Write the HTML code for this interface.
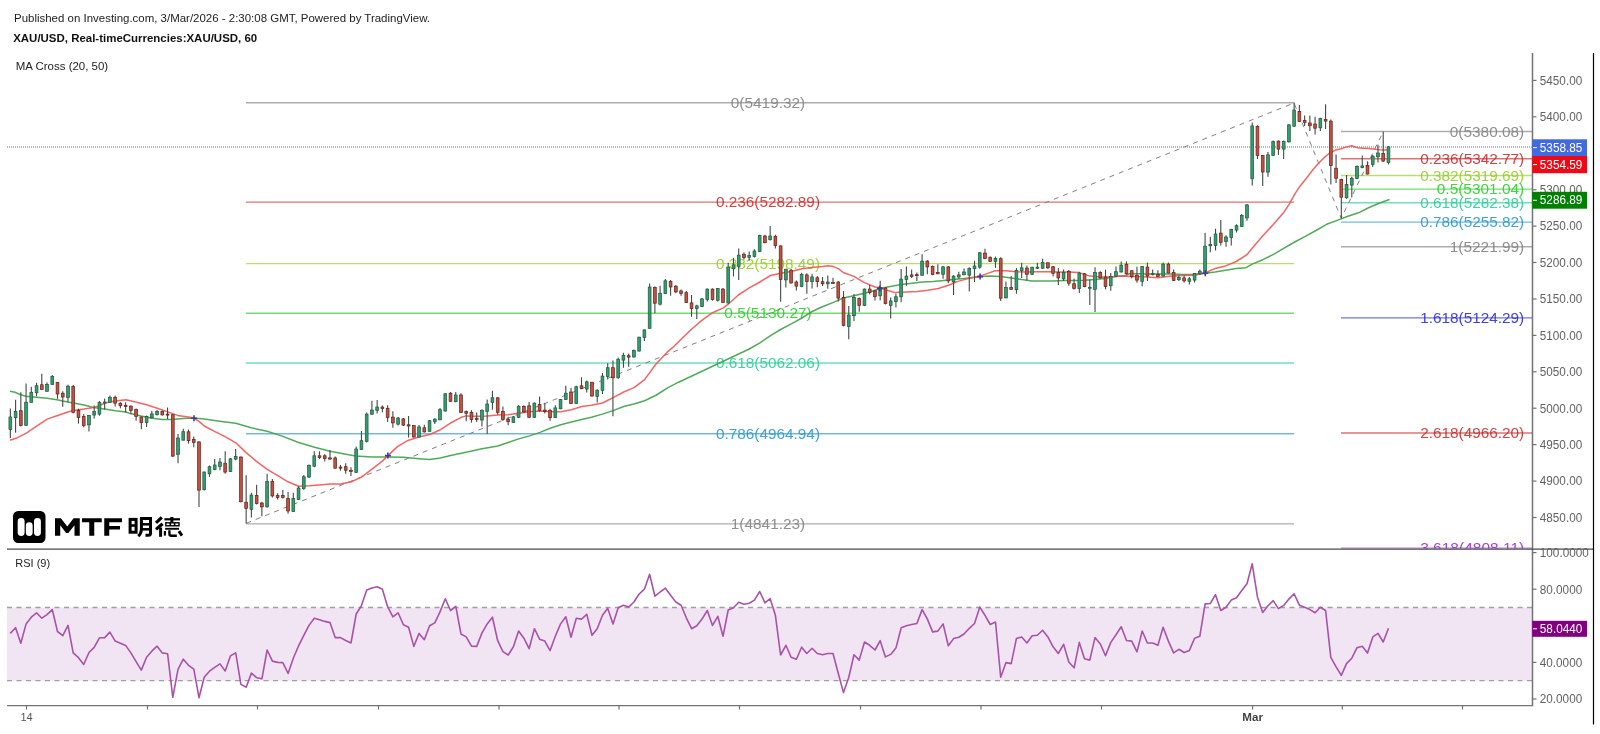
<!DOCTYPE html><html><head><meta charset="utf-8"><title>XAU/USD</title><style>html,body{margin:0;padding:0;background:#fff}svg{display:block;will-change:transform}text{font-family:"Liberation Sans",sans-serif}</style></head><body>
<svg width="1600" height="734" viewBox="0 0 1600 734">
<rect width="1600" height="734" fill="#fff"/>
<defs><clipPath id="main"><rect x="0" y="50" width="1532" height="498.5"/></clipPath><clipPath id="rsic"><rect x="7" y="550" width="1525" height="155"/></clipPath></defs>
<text x="14" y="21.8" font-size="11" fill="#222" textLength="416" lengthAdjust="spacingAndGlyphs">Published on Investing.com, 3/Mar/2026 - 2:30:08 GMT, Powered by TradingView.</text>
<text x="13.2" y="41.5" font-size="11" font-weight="bold" fill="#111" textLength="244" lengthAdjust="spacingAndGlyphs">XAU/USD, Real-timeCurrencies:XAU/USD, 60</text>
<text x="15.7" y="69.9" font-size="11" fill="#222" textLength="92.5" lengthAdjust="spacingAndGlyphs">MA Cross (20, 50)</text>
<text x="15.3" y="567.3" font-size="11" fill="#222">RSI (9)</text>
<g clip-path="url(#main)">
<line x1="246" x2="1294" y1="102.8" y2="102.8" stroke="#808080" stroke-width="1.4" opacity="0.65"/>
<text x="730.8" y="107.9" font-size="14.3" fill="#808080" opacity="0.88" textLength="74.4" lengthAdjust="spacingAndGlyphs">0(5419.32)</text>
<line x1="246" x2="1294" y1="202.1" y2="202.1" stroke="#cc2828" stroke-width="1.4" opacity="0.65"/>
<text x="716.0" y="207.2" font-size="14.3" fill="#cc2828" opacity="0.88" textLength="104.0" lengthAdjust="spacingAndGlyphs">0.236(5282.89)</text>
<line x1="246" x2="1294" y1="263.6" y2="263.6" stroke="#95cc28" stroke-width="1.4" opacity="0.65"/>
<text x="716.0" y="268.7" font-size="14.3" fill="#95cc28" opacity="0.88" textLength="104.0" lengthAdjust="spacingAndGlyphs">0.382(5198.49)</text>
<line x1="246" x2="1294" y1="313.3" y2="313.3" stroke="#28cc28" stroke-width="1.4" opacity="0.65"/>
<text x="724.3" y="318.4" font-size="14.3" fill="#28cc28" opacity="0.88" textLength="87.4" lengthAdjust="spacingAndGlyphs">0.5(5130.27)</text>
<line x1="246" x2="1294" y1="363.0" y2="363.0" stroke="#28cc95" stroke-width="1.4" opacity="0.65"/>
<text x="716.0" y="368.1" font-size="14.3" fill="#28cc95" opacity="0.88" textLength="104.0" lengthAdjust="spacingAndGlyphs">0.618(5062.06)</text>
<line x1="246" x2="1294" y1="433.8" y2="433.8" stroke="#2895cc" stroke-width="1.4" opacity="0.65"/>
<text x="716.0" y="438.9" font-size="14.3" fill="#2895cc" opacity="0.88" textLength="104.0" lengthAdjust="spacingAndGlyphs">0.786(4964.94)</text>
<line x1="246" x2="1294" y1="523.9" y2="523.9" stroke="#808080" stroke-width="1.4" opacity="0.65"/>
<text x="730.8" y="529.0" font-size="14.3" fill="#808080" opacity="0.88" textLength="74.4" lengthAdjust="spacingAndGlyphs">1(4841.23)</text>
<line x1="1341" x2="1532" y1="131.5" y2="131.5" stroke="#808080" stroke-width="1.4" opacity="0.65"/>
<text x="1449.8" y="136.6" font-size="14.3" fill="#808080" opacity="0.88" textLength="74.4" lengthAdjust="spacingAndGlyphs">0(5380.08)</text>
<line x1="1341" x2="1532" y1="158.7" y2="158.7" stroke="#cc2828" stroke-width="1.4" opacity="0.65"/>
<text x="1420.2" y="163.8" font-size="14.3" fill="#cc2828" opacity="0.88" textLength="104.0" lengthAdjust="spacingAndGlyphs">0.236(5342.77)</text>
<line x1="1341" x2="1532" y1="175.5" y2="175.5" stroke="#95cc28" stroke-width="1.4" opacity="0.65"/>
<text x="1420.2" y="180.6" font-size="14.3" fill="#95cc28" opacity="0.88" textLength="104.0" lengthAdjust="spacingAndGlyphs">0.382(5319.69)</text>
<line x1="1341" x2="1532" y1="189.1" y2="189.1" stroke="#28cc28" stroke-width="1.4" opacity="0.65"/>
<text x="1436.8" y="194.2" font-size="14.3" fill="#28cc28" opacity="0.88" textLength="87.4" lengthAdjust="spacingAndGlyphs">0.5(5301.04)</text>
<line x1="1341" x2="1532" y1="202.7" y2="202.7" stroke="#28cc95" stroke-width="1.4" opacity="0.65"/>
<text x="1420.2" y="207.8" font-size="14.3" fill="#28cc95" opacity="0.88" textLength="104.0" lengthAdjust="spacingAndGlyphs">0.618(5282.38)</text>
<line x1="1341" x2="1532" y1="222.1" y2="222.1" stroke="#2895cc" stroke-width="1.4" opacity="0.65"/>
<text x="1420.2" y="227.2" font-size="14.3" fill="#2895cc" opacity="0.88" textLength="104.0" lengthAdjust="spacingAndGlyphs">0.786(5255.82)</text>
<line x1="1341" x2="1532" y1="246.7" y2="246.7" stroke="#808080" stroke-width="1.4" opacity="0.65"/>
<text x="1449.8" y="251.8" font-size="14.3" fill="#808080" opacity="0.88" textLength="74.4" lengthAdjust="spacingAndGlyphs">1(5221.99)</text>
<line x1="1341" x2="1532" y1="317.9" y2="317.9" stroke="#2828cc" stroke-width="1.4" opacity="0.65"/>
<text x="1420.2" y="323.0" font-size="14.3" fill="#2828cc" opacity="0.88" textLength="104.0" lengthAdjust="spacingAndGlyphs">1.618(5124.29)</text>
<line x1="1341" x2="1532" y1="433.0" y2="433.0" stroke="#cc2828" stroke-width="1.4" opacity="0.65"/>
<text x="1420.2" y="438.1" font-size="14.3" fill="#cc2828" opacity="0.88" textLength="104.0" lengthAdjust="spacingAndGlyphs">2.618(4966.20)</text>
<line x1="1341" x2="1532" y1="548.2" y2="548.2" stroke="#9528cc" stroke-width="1.4" opacity="0.65"/>
<text x="1420.2" y="553.3" font-size="14.3" fill="#9528cc" opacity="0.88" textLength="104.0" lengthAdjust="spacingAndGlyphs">3.618(4808.11)</text>
<line x1="7" x2="1532" y1="147" y2="147" stroke="#4169e1" stroke-width="1" stroke-dasharray="1,1" opacity="0.95"/>
<path d="M246.4,523.2 L1294,103 L1341.2,218.2 L1383.3,131.5" fill="none" stroke="#808080" stroke-width="1" stroke-dasharray="5,5"/>
<path d="M10.0,391.3 L15.0,392.3 L20.7,394.8 L25.9,396.3 L36.3,397.3 L47.2,398.2 L57.0,399.8 L67.7,402.0 L73.3,403.0 L84.0,405.1 L93.7,407.4 L104.4,408.9 L115.3,410.7 L125.9,412.0 L130.3,413.6 L141.2,416.1 L151.9,418.3 L162.5,419.5 L172.4,419.4 L183.0,418.4 L193.7,418.0 L204.3,418.9 L219.7,421.2 L235.8,423.3 L251.2,427.8 L267.2,431.3 L282.2,436.1 L298.5,442.5 L314.6,447.2 L330.0,451.3 L346.0,454.3 L355.7,456.1 L371.7,457.0 L387.9,457.0 L403.2,457.3 L419.1,458.8 L429.7,459.6 L440.4,457.9 L450.5,455.4 L466.1,452.2 L482.0,448.7 L497.9,446.0 L508.0,442.5 L518.7,438.9 L529.5,435.9 L540.1,432.4 L550.2,428.3 L560.8,424.8 L571.4,422.1 L581.7,419.4 L591.4,417.3 L602.4,414.1 L613.1,410.6 L623.7,406.5 L634.0,404.0 L644.6,400.8 L655.6,395.5 L668.0,387.6 L678.6,382.2 L749.3,349.0 L759.9,342.8 L770.5,335.7 L780.6,329.5 L791.3,323.8 L801.9,318.0 L811.6,311.8 L822.4,306.8 L833.4,302.4 L843.2,298.1 L853.8,295.8 L864.4,293.2 L875.0,290.5 L880.0,288.5 L890.3,286.4 L901.3,284.6 L911.9,283.2 L922.5,282.0 L933.1,281.4 L943.8,280.5 L953.1,279.6 L963.8,278.4 L974.4,277.3 L979.7,276.6 L989.8,276.1 L1000.4,276.5 L1011.1,277.9 L1021.7,279.6 L1031.8,280.9 L1042.4,280.9 L1053.0,280.9 L1063.7,280.5 L1073.6,280.5 L1084.6,280.2 L1095.2,279.6 L1104.9,278.4 L1115.6,276.6 L1126.2,275.6 L1130.0,273.5 L1147.7,273.9 L1172.5,273.9 L1183.1,274.4 L1194.3,274.2 L1205.3,273.3 L1215.0,272.1 L1225.6,270.3 L1236.3,268.6 L1246.0,267.7 L1252.2,264.1 L1262.8,259.7 L1273.5,254.4 L1284.1,248.2 L1294.7,242.0 L1305.3,236.3 L1316.0,230.5 L1326.6,224.3 L1337.2,220.4 L1347.9,216.3 L1358.5,212.8 L1369.1,207.5 L1379.7,203.0 L1389.5,199.5" fill="none" stroke="#3fa048" stroke-width="1.5" stroke-linejoin="round" opacity="0.9"/>
<path d="M10.0,440.2 L15.9,438.3 L25.9,433.3 L36.3,426.4 L47.2,419.1 L57.0,415.8 L67.7,412.0 L73.3,410.4 L84.0,409.1 L93.7,407.6 L99.2,405.7 L104.4,403.2 L109.6,402.0 L115.3,401.1 L125.9,399.7 L135.6,402.0 L146.6,404.8 L157.3,408.2 L167.0,411.6 L177.7,415.4 L188.3,417.1 L193.7,418.0 L199.3,421.6 L204.3,426.0 L214.4,431.3 L225.0,436.6 L235.8,442.8 L246.1,452.6 L256.5,461.4 L267.2,469.4 L277.8,475.6 L287.9,481.8 L298.5,486.2 L309.3,485.7 L319.1,485.0 L330.0,484.1 L340.7,484.1 L351.3,481.8 L361.0,477.4 L371.7,469.4 L382.6,460.9 L387.9,455.6 L397.7,446.4 L408.5,440.2 L420.0,436.8 L429.7,434.5 L440.4,429.7 L450.5,423.0 L461.3,417.3 L466.1,415.9 L476.7,416.3 L487.3,415.9 L497.9,415.0 L508.0,414.7 L518.7,413.2 L529.5,411.8 L540.1,410.9 L550.2,411.8 L560.8,411.8 L571.4,409.7 L581.7,406.5 L591.4,405.3 L602.4,403.0 L613.1,397.7 L623.7,392.0 L634.0,387.6 L644.6,379.6 L655.6,364.5 L668.0,351.3 L673.1,347.2 L681.1,339.2 L691.2,329.5 L701.5,320.6 L712.5,312.7 L723.3,307.9 L727.7,304.7 L738.3,295.0 L749.3,287.9 L759.9,282.0 L770.5,275.5 L780.6,273.2 L791.3,271.4 L801.9,268.7 L811.6,267.5 L822.4,266.6 L828.1,265.7 L833.4,266.6 L838.7,268.9 L843.2,272.5 L853.8,276.4 L864.4,282.6 L875.0,287.0 L880.0,287.6 L887.1,290.3 L895.1,292.6 L906.6,292.0 L917.2,291.5 L927.8,290.3 L938.4,288.5 L949.1,285.0 L957.9,281.4 L969.1,278.4 L979.7,276.1 L989.8,272.6 L995.1,270.8 L1005.8,270.8 L1016.4,271.7 L1027.0,272.0 L1037.6,271.7 L1048.3,271.7 L1058.4,272.0 L1068.3,272.0 L1078.9,272.6 L1089.9,276.1 L1100.2,277.0 L1110.3,277.0 L1120.9,276.1 L1130.0,276.5 L1147.7,277.1 L1158.3,277.8 L1169.0,276.2 L1183.1,275.6 L1194.3,275.3 L1205.3,273.0 L1210.6,270.3 L1215.0,268.6 L1225.6,265.9 L1236.3,261.5 L1246.9,254.7 L1252.2,248.2 L1262.8,235.8 L1273.5,224.3 L1284.1,211.9 L1289.4,203.9 L1294.7,194.2 L1300.0,186.2 L1306.8,177.8 L1312.6,170.1 L1318.3,163.5 L1324.0,157.7 L1329.7,153.0 L1335.5,150.1 L1341.2,148.8 L1346.3,146.9 L1351.7,145.7 L1357.4,147.8 L1362.6,148.2 L1367.9,148.6 L1373.6,149.1 L1379.4,149.7 L1387.0,150.1" fill="none" stroke="#ee5555" stroke-width="1.5" stroke-linejoin="round" opacity="0.9"/>
<line x1="10.35" x2="10.35" y1="408.6" y2="438.1" stroke="#404a44" stroke-width="1.1"/>
<rect x="8.95" y="417.0" width="2.8" height="12.5" fill="#2f9f6f" stroke="#23563b" stroke-width="0.7"/>
<line x1="15.59" x2="15.59" y1="399.7" y2="432.7" stroke="#404a44" stroke-width="1.1"/>
<rect x="14.19" y="411.4" width="2.8" height="6.3" fill="#2f9f6f" stroke="#23563b" stroke-width="0.7"/>
<line x1="20.83" x2="20.83" y1="392.3" y2="426.4" stroke="#404a44" stroke-width="1.1"/>
<rect x="19.43" y="410.7" width="2.8" height="14.8" fill="#c4503f" stroke="#5f221a" stroke-width="0.7"/>
<line x1="26.07" x2="26.07" y1="383.5" y2="425.4" stroke="#404a44" stroke-width="1.1"/>
<rect x="24.67" y="402.2" width="2.8" height="23.2" fill="#2f9f6f" stroke="#23563b" stroke-width="0.7"/>
<line x1="31.31" x2="31.31" y1="386.7" y2="402.3" stroke="#404a44" stroke-width="1.1"/>
<rect x="29.91" y="392.3" width="2.8" height="10.0" fill="#2f9f6f" stroke="#23563b" stroke-width="0.7"/>
<line x1="36.55" x2="36.55" y1="382.8" y2="396.3" stroke="#404a44" stroke-width="1.1"/>
<rect x="35.15" y="385.7" width="2.8" height="7.1" fill="#2f9f6f" stroke="#23563b" stroke-width="0.7"/>
<line x1="41.79" x2="41.79" y1="373.8" y2="389.4" stroke="#404a44" stroke-width="1.1"/>
<rect x="40.39" y="384.8" width="2.8" height="4.6" fill="#c4503f" stroke="#5f221a" stroke-width="0.7"/>
<line x1="47.03" x2="47.03" y1="382.5" y2="391.3" stroke="#404a44" stroke-width="1.1"/>
<rect x="45.63" y="384.4" width="2.8" height="6.9" fill="#2f9f6f" stroke="#23563b" stroke-width="0.7"/>
<line x1="52.27" x2="52.27" y1="375.0" y2="384.4" stroke="#404a44" stroke-width="1.1"/>
<rect x="50.87" y="376.5" width="2.8" height="7.9" fill="#2f9f6f" stroke="#23563b" stroke-width="0.7"/>
<line x1="57.51" x2="57.51" y1="382.3" y2="398.8" stroke="#404a44" stroke-width="1.1"/>
<rect x="56.11" y="382.5" width="2.8" height="11.5" fill="#c4503f" stroke="#5f221a" stroke-width="0.7"/>
<line x1="62.75" x2="62.75" y1="391.3" y2="406.7" stroke="#404a44" stroke-width="1.1"/>
<rect x="61.35" y="393.2" width="2.8" height="3.8" fill="#c4503f" stroke="#5f221a" stroke-width="0.7"/>
<line x1="67.99" x2="67.99" y1="384.8" y2="402.0" stroke="#404a44" stroke-width="1.1"/>
<rect x="66.59" y="386.1" width="2.8" height="11.3" fill="#2f9f6f" stroke="#23563b" stroke-width="0.7"/>
<line x1="73.23" x2="73.23" y1="385.1" y2="413.2" stroke="#404a44" stroke-width="1.1"/>
<rect x="71.83" y="386.6" width="2.8" height="25.8" fill="#c4503f" stroke="#5f221a" stroke-width="0.7"/>
<line x1="78.47" x2="78.47" y1="408.6" y2="423.6" stroke="#404a44" stroke-width="1.1"/>
<rect x="77.07" y="410.4" width="2.8" height="7.0" fill="#c4503f" stroke="#5f221a" stroke-width="0.7"/>
<line x1="83.71" x2="83.71" y1="414.1" y2="427.3" stroke="#404a44" stroke-width="1.1"/>
<rect x="82.31" y="416.6" width="2.8" height="8.8" fill="#c4503f" stroke="#5f221a" stroke-width="0.7"/>
<line x1="88.95" x2="88.95" y1="415.1" y2="431.4" stroke="#404a44" stroke-width="1.1"/>
<rect x="87.55" y="415.4" width="2.8" height="9.5" fill="#2f9f6f" stroke="#23563b" stroke-width="0.7"/>
<line x1="94.19" x2="94.19" y1="405.4" y2="418.6" stroke="#404a44" stroke-width="1.1"/>
<rect x="92.79" y="411.6" width="2.8" height="3.5" fill="#2f9f6f" stroke="#23563b" stroke-width="0.7"/>
<line x1="99.43" x2="99.43" y1="401.1" y2="415.8" stroke="#404a44" stroke-width="1.1"/>
<rect x="98.03" y="402.6" width="2.8" height="11.5" fill="#2f9f6f" stroke="#23563b" stroke-width="0.7"/>
<line x1="104.67" x2="104.67" y1="398.6" y2="409.5" stroke="#404a44" stroke-width="1.1"/>
<rect x="103.27" y="402.0" width="2.8" height="1.0" fill="#2f9f6f" stroke="#23563b" stroke-width="0.7"/>
<line x1="109.91" x2="109.91" y1="395.5" y2="402.3" stroke="#404a44" stroke-width="1.1"/>
<rect x="108.51" y="397.3" width="2.8" height="5.0" fill="#2f9f6f" stroke="#23563b" stroke-width="0.7"/>
<line x1="115.15" x2="115.15" y1="395.5" y2="406.4" stroke="#404a44" stroke-width="1.1"/>
<rect x="113.75" y="397.3" width="2.8" height="5.9" fill="#c4503f" stroke="#5f221a" stroke-width="0.7"/>
<line x1="120.39" x2="120.39" y1="402.3" y2="408.2" stroke="#404a44" stroke-width="1.1"/>
<rect x="118.99" y="403.2" width="2.8" height="2.5" fill="#c4503f" stroke="#5f221a" stroke-width="0.7"/>
<line x1="125.63" x2="125.63" y1="402.3" y2="412.4" stroke="#404a44" stroke-width="1.1"/>
<rect x="124.23" y="405.4" width="2.8" height="1.0" fill="#c4503f" stroke="#5f221a" stroke-width="0.7"/>
<line x1="130.87" x2="130.87" y1="405.4" y2="413.9" stroke="#404a44" stroke-width="1.1"/>
<rect x="129.47" y="406.1" width="2.8" height="4.3" fill="#c4503f" stroke="#5f221a" stroke-width="0.7"/>
<line x1="136.11" x2="136.11" y1="408.6" y2="420.8" stroke="#404a44" stroke-width="1.1"/>
<rect x="134.71" y="409.5" width="2.8" height="6.9" fill="#c4503f" stroke="#5f221a" stroke-width="0.7"/>
<line x1="141.35" x2="141.35" y1="416.4" y2="429.2" stroke="#404a44" stroke-width="1.1"/>
<rect x="139.95" y="417.0" width="2.8" height="5.6" fill="#c4503f" stroke="#5f221a" stroke-width="0.7"/>
<line x1="146.59" x2="146.59" y1="415.4" y2="427.0" stroke="#404a44" stroke-width="1.1"/>
<rect x="145.19" y="416.6" width="2.8" height="6.0" fill="#2f9f6f" stroke="#23563b" stroke-width="0.7"/>
<line x1="151.83" x2="151.83" y1="410.7" y2="418.3" stroke="#404a44" stroke-width="1.1"/>
<rect x="150.43" y="413.9" width="2.8" height="3.8" fill="#2f9f6f" stroke="#23563b" stroke-width="0.7"/>
<line x1="157.07" x2="157.07" y1="410.1" y2="415.4" stroke="#404a44" stroke-width="1.1"/>
<rect x="155.67" y="411.6" width="2.8" height="3.1" fill="#2f9f6f" stroke="#23563b" stroke-width="0.7"/>
<line x1="162.31" x2="162.31" y1="410.4" y2="415.4" stroke="#404a44" stroke-width="1.1"/>
<rect x="160.91" y="411.6" width="2.8" height="3.3" fill="#c4503f" stroke="#5f221a" stroke-width="0.7"/>
<line x1="167.55" x2="167.55" y1="407.4" y2="418.9" stroke="#404a44" stroke-width="1.1"/>
<rect x="166.15" y="414.1" width="2.8" height="1.0" fill="#c4503f" stroke="#5f221a" stroke-width="0.7"/>
<line x1="172.79" x2="172.79" y1="414.1" y2="457.0" stroke="#404a44" stroke-width="1.1"/>
<rect x="171.39" y="414.8" width="2.8" height="41.3" fill="#c4503f" stroke="#5f221a" stroke-width="0.7"/>
<line x1="178.03" x2="178.03" y1="434.0" y2="463.2" stroke="#404a44" stroke-width="1.1"/>
<rect x="176.63" y="438.0" width="2.8" height="16.3" fill="#2f9f6f" stroke="#23563b" stroke-width="0.7"/>
<line x1="183.27" x2="183.27" y1="428.7" y2="440.2" stroke="#404a44" stroke-width="1.1"/>
<rect x="181.87" y="431.7" width="2.8" height="8.5" fill="#2f9f6f" stroke="#23563b" stroke-width="0.7"/>
<line x1="188.51" x2="188.51" y1="429.5" y2="443.7" stroke="#404a44" stroke-width="1.1"/>
<rect x="187.11" y="431.8" width="2.8" height="8.9" fill="#c4503f" stroke="#5f221a" stroke-width="0.7"/>
<line x1="193.75" x2="193.75" y1="436.6" y2="447.2" stroke="#404a44" stroke-width="1.1"/>
<rect x="192.35" y="439.3" width="2.8" height="3.2" fill="#c4503f" stroke="#5f221a" stroke-width="0.7"/>
<line x1="198.99" x2="198.99" y1="441.4" y2="506.9" stroke="#404a44" stroke-width="1.1"/>
<rect x="197.59" y="441.9" width="2.8" height="48.2" fill="#c4503f" stroke="#5f221a" stroke-width="0.7"/>
<line x1="204.23" x2="204.23" y1="471.5" y2="490.6" stroke="#404a44" stroke-width="1.1"/>
<rect x="202.83" y="472.0" width="2.8" height="17.7" fill="#2f9f6f" stroke="#23563b" stroke-width="0.7"/>
<line x1="209.47" x2="209.47" y1="465.5" y2="476.8" stroke="#404a44" stroke-width="1.1"/>
<rect x="208.07" y="466.7" width="2.8" height="7.1" fill="#2f9f6f" stroke="#23563b" stroke-width="0.7"/>
<line x1="214.71" x2="214.71" y1="459.1" y2="470.3" stroke="#404a44" stroke-width="1.1"/>
<rect x="213.31" y="465.0" width="2.8" height="4.4" fill="#2f9f6f" stroke="#23563b" stroke-width="0.7"/>
<line x1="219.95" x2="219.95" y1="457.9" y2="470.3" stroke="#404a44" stroke-width="1.1"/>
<rect x="218.55" y="462.0" width="2.8" height="4.3" fill="#2f9f6f" stroke="#23563b" stroke-width="0.7"/>
<line x1="225.19" x2="225.19" y1="451.3" y2="473.8" stroke="#404a44" stroke-width="1.1"/>
<rect x="223.79" y="463.2" width="2.8" height="8.9" fill="#c4503f" stroke="#5f221a" stroke-width="0.7"/>
<line x1="230.43" x2="230.43" y1="457.9" y2="472.0" stroke="#404a44" stroke-width="1.1"/>
<rect x="229.03" y="458.8" width="2.8" height="12.8" fill="#2f9f6f" stroke="#23563b" stroke-width="0.7"/>
<line x1="235.67" x2="235.67" y1="449.0" y2="460.2" stroke="#404a44" stroke-width="1.1"/>
<rect x="234.27" y="456.6" width="2.8" height="2.5" fill="#2f9f6f" stroke="#23563b" stroke-width="0.7"/>
<line x1="240.91" x2="240.91" y1="456.6" y2="502.2" stroke="#404a44" stroke-width="1.1"/>
<rect x="239.51" y="457.0" width="2.8" height="44.8" fill="#c4503f" stroke="#5f221a" stroke-width="0.7"/>
<line x1="246.15" x2="246.15" y1="475.2" y2="523.4" stroke="#404a44" stroke-width="1.1"/>
<rect x="244.75" y="502.2" width="2.8" height="6.2" fill="#c4503f" stroke="#5f221a" stroke-width="0.7"/>
<line x1="251.39" x2="251.39" y1="492.8" y2="517.6" stroke="#404a44" stroke-width="1.1"/>
<rect x="249.99" y="495.1" width="2.8" height="14.2" fill="#2f9f6f" stroke="#23563b" stroke-width="0.7"/>
<line x1="256.63" x2="256.63" y1="484.8" y2="504.5" stroke="#404a44" stroke-width="1.1"/>
<rect x="255.23" y="495.6" width="2.8" height="8.0" fill="#c4503f" stroke="#5f221a" stroke-width="0.7"/>
<line x1="261.87" x2="261.87" y1="501.8" y2="516.3" stroke="#404a44" stroke-width="1.1"/>
<rect x="260.47" y="503.0" width="2.8" height="3.9" fill="#c4503f" stroke="#5f221a" stroke-width="0.7"/>
<line x1="267.11" x2="267.11" y1="473.8" y2="507.5" stroke="#404a44" stroke-width="1.1"/>
<rect x="265.71" y="481.4" width="2.8" height="25.5" fill="#2f9f6f" stroke="#23563b" stroke-width="0.7"/>
<line x1="272.35" x2="272.35" y1="479.1" y2="497.4" stroke="#404a44" stroke-width="1.1"/>
<rect x="270.95" y="481.4" width="2.8" height="14.5" fill="#c4503f" stroke="#5f221a" stroke-width="0.7"/>
<line x1="277.59" x2="277.59" y1="493.3" y2="499.5" stroke="#404a44" stroke-width="1.1"/>
<rect x="276.19" y="495.6" width="2.8" height="1.8" fill="#c4503f" stroke="#5f221a" stroke-width="0.7"/>
<line x1="282.83" x2="282.83" y1="490.1" y2="498.6" stroke="#404a44" stroke-width="1.1"/>
<rect x="281.43" y="495.6" width="2.8" height="1.8" fill="#c4503f" stroke="#5f221a" stroke-width="0.7"/>
<line x1="288.07" x2="288.07" y1="492.1" y2="513.7" stroke="#404a44" stroke-width="1.1"/>
<rect x="286.67" y="498.6" width="2.8" height="12.4" fill="#c4503f" stroke="#5f221a" stroke-width="0.7"/>
<line x1="293.31" x2="293.31" y1="492.8" y2="511.9" stroke="#404a44" stroke-width="1.1"/>
<rect x="291.91" y="498.6" width="2.8" height="12.8" fill="#2f9f6f" stroke="#23563b" stroke-width="0.7"/>
<line x1="298.55" x2="298.55" y1="486.2" y2="499.9" stroke="#404a44" stroke-width="1.1"/>
<rect x="297.15" y="488.0" width="2.8" height="11.5" fill="#2f9f6f" stroke="#23563b" stroke-width="0.7"/>
<line x1="303.79" x2="303.79" y1="475.1" y2="489.8" stroke="#404a44" stroke-width="1.1"/>
<rect x="302.39" y="476.8" width="2.8" height="11.7" fill="#2f9f6f" stroke="#23563b" stroke-width="0.7"/>
<line x1="309.03" x2="309.03" y1="464.4" y2="477.9" stroke="#404a44" stroke-width="1.1"/>
<rect x="307.63" y="465.3" width="2.8" height="11.7" fill="#2f9f6f" stroke="#23563b" stroke-width="0.7"/>
<line x1="314.27" x2="314.27" y1="451.3" y2="467.3" stroke="#404a44" stroke-width="1.1"/>
<rect x="312.87" y="455.8" width="2.8" height="10.4" fill="#2f9f6f" stroke="#23563b" stroke-width="0.7"/>
<line x1="319.51" x2="319.51" y1="451.3" y2="459.1" stroke="#404a44" stroke-width="1.1"/>
<rect x="318.11" y="455.8" width="2.8" height="1.6" fill="#c4503f" stroke="#5f221a" stroke-width="0.7"/>
<line x1="324.75" x2="324.75" y1="454.3" y2="461.4" stroke="#404a44" stroke-width="1.1"/>
<rect x="323.35" y="455.8" width="2.8" height="2.7" fill="#c4503f" stroke="#5f221a" stroke-width="0.7"/>
<line x1="329.99" x2="329.99" y1="449.9" y2="459.6" stroke="#404a44" stroke-width="1.1"/>
<rect x="328.59" y="457.9" width="2.8" height="1.2" fill="#c4503f" stroke="#5f221a" stroke-width="0.7"/>
<line x1="335.23" x2="335.23" y1="456.6" y2="468.5" stroke="#404a44" stroke-width="1.1"/>
<rect x="333.83" y="457.9" width="2.8" height="10.3" fill="#c4503f" stroke="#5f221a" stroke-width="0.7"/>
<line x1="340.47" x2="340.47" y1="465.0" y2="470.8" stroke="#404a44" stroke-width="1.1"/>
<rect x="339.07" y="467.1" width="2.8" height="1.1" fill="#c4503f" stroke="#5f221a" stroke-width="0.7"/>
<line x1="345.71" x2="345.71" y1="463.2" y2="473.8" stroke="#404a44" stroke-width="1.1"/>
<rect x="344.31" y="466.7" width="2.8" height="3.5" fill="#c4503f" stroke="#5f221a" stroke-width="0.7"/>
<line x1="350.95" x2="350.95" y1="467.3" y2="475.9" stroke="#404a44" stroke-width="1.1"/>
<rect x="349.55" y="470.3" width="2.8" height="1.2" fill="#c4503f" stroke="#5f221a" stroke-width="0.7"/>
<line x1="356.19" x2="356.19" y1="446.4" y2="472.9" stroke="#404a44" stroke-width="1.1"/>
<rect x="354.79" y="449.0" width="2.8" height="23.4" fill="#2f9f6f" stroke="#23563b" stroke-width="0.7"/>
<line x1="361.43" x2="361.43" y1="431.0" y2="449.9" stroke="#404a44" stroke-width="1.1"/>
<rect x="360.03" y="440.7" width="2.8" height="8.7" fill="#2f9f6f" stroke="#23563b" stroke-width="0.7"/>
<line x1="366.67" x2="366.67" y1="412.4" y2="442.5" stroke="#404a44" stroke-width="1.1"/>
<rect x="365.27" y="414.1" width="2.8" height="27.3" fill="#2f9f6f" stroke="#23563b" stroke-width="0.7"/>
<line x1="371.91" x2="371.91" y1="400.8" y2="414.8" stroke="#404a44" stroke-width="1.1"/>
<rect x="370.51" y="410.1" width="2.8" height="4.1" fill="#2f9f6f" stroke="#23563b" stroke-width="0.7"/>
<line x1="377.15" x2="377.15" y1="400.0" y2="413.6" stroke="#404a44" stroke-width="1.1"/>
<rect x="375.75" y="407.0" width="2.8" height="3.4" fill="#2f9f6f" stroke="#23563b" stroke-width="0.7"/>
<line x1="382.39" x2="382.39" y1="405.6" y2="412.2" stroke="#404a44" stroke-width="1.1"/>
<rect x="380.99" y="407.0" width="2.8" height="1.6" fill="#c4503f" stroke="#5f221a" stroke-width="0.7"/>
<line x1="387.63" x2="387.63" y1="405.3" y2="421.9" stroke="#404a44" stroke-width="1.1"/>
<rect x="386.23" y="408.3" width="2.8" height="9.2" fill="#c4503f" stroke="#5f221a" stroke-width="0.7"/>
<line x1="392.87" x2="392.87" y1="411.3" y2="427.8" stroke="#404a44" stroke-width="1.1"/>
<rect x="391.47" y="417.1" width="2.8" height="5.8" fill="#c4503f" stroke="#5f221a" stroke-width="0.7"/>
<line x1="398.11" x2="398.11" y1="417.1" y2="425.5" stroke="#404a44" stroke-width="1.1"/>
<rect x="396.71" y="418.0" width="2.8" height="6.2" fill="#2f9f6f" stroke="#23563b" stroke-width="0.7"/>
<line x1="403.35" x2="403.35" y1="418.0" y2="426.0" stroke="#404a44" stroke-width="1.1"/>
<rect x="401.95" y="418.9" width="2.8" height="6.2" fill="#c4503f" stroke="#5f221a" stroke-width="0.7"/>
<line x1="408.59" x2="408.59" y1="415.9" y2="437.5" stroke="#404a44" stroke-width="1.1"/>
<rect x="407.19" y="424.8" width="2.8" height="1.2" fill="#c4503f" stroke="#5f221a" stroke-width="0.7"/>
<line x1="413.83" x2="413.83" y1="425.1" y2="437.5" stroke="#404a44" stroke-width="1.1"/>
<rect x="412.43" y="425.5" width="2.8" height="11.5" fill="#c4503f" stroke="#5f221a" stroke-width="0.7"/>
<line x1="419.07" x2="419.07" y1="425.1" y2="437.5" stroke="#404a44" stroke-width="1.1"/>
<rect x="417.67" y="426.9" width="2.8" height="10.1" fill="#2f9f6f" stroke="#23563b" stroke-width="0.7"/>
<line x1="424.31" x2="424.31" y1="424.8" y2="432.4" stroke="#404a44" stroke-width="1.1"/>
<rect x="422.91" y="427.8" width="2.8" height="4.1" fill="#c4503f" stroke="#5f221a" stroke-width="0.7"/>
<line x1="429.55" x2="429.55" y1="420.0" y2="431.8" stroke="#404a44" stroke-width="1.1"/>
<rect x="428.15" y="420.7" width="2.8" height="10.6" fill="#2f9f6f" stroke="#23563b" stroke-width="0.7"/>
<line x1="434.79" x2="434.79" y1="418.2" y2="423.9" stroke="#404a44" stroke-width="1.1"/>
<rect x="433.39" y="419.1" width="2.8" height="2.7" fill="#2f9f6f" stroke="#23563b" stroke-width="0.7"/>
<line x1="440.03" x2="440.03" y1="407.9" y2="420.3" stroke="#404a44" stroke-width="1.1"/>
<rect x="438.63" y="409.7" width="2.8" height="10.1" fill="#2f9f6f" stroke="#23563b" stroke-width="0.7"/>
<line x1="445.27" x2="445.27" y1="392.9" y2="411.5" stroke="#404a44" stroke-width="1.1"/>
<rect x="443.87" y="393.8" width="2.8" height="17.2" fill="#2f9f6f" stroke="#23563b" stroke-width="0.7"/>
<line x1="450.51" x2="450.51" y1="392.0" y2="401.7" stroke="#404a44" stroke-width="1.1"/>
<rect x="449.11" y="393.2" width="2.8" height="8.1" fill="#c4503f" stroke="#5f221a" stroke-width="0.7"/>
<line x1="455.75" x2="455.75" y1="392.0" y2="402.3" stroke="#404a44" stroke-width="1.1"/>
<rect x="454.35" y="395.0" width="2.8" height="6.7" fill="#2f9f6f" stroke="#23563b" stroke-width="0.7"/>
<line x1="460.99" x2="460.99" y1="393.2" y2="412.9" stroke="#404a44" stroke-width="1.1"/>
<rect x="459.59" y="395.0" width="2.8" height="17.4" fill="#c4503f" stroke="#5f221a" stroke-width="0.7"/>
<line x1="466.23" x2="466.23" y1="410.6" y2="421.2" stroke="#404a44" stroke-width="1.1"/>
<rect x="464.83" y="411.5" width="2.8" height="1.8" fill="#c4503f" stroke="#5f221a" stroke-width="0.7"/>
<line x1="471.47" x2="471.47" y1="410.2" y2="422.6" stroke="#404a44" stroke-width="1.1"/>
<rect x="470.07" y="412.4" width="2.8" height="7.1" fill="#c4503f" stroke="#5f221a" stroke-width="0.7"/>
<line x1="476.71" x2="476.71" y1="412.4" y2="422.1" stroke="#404a44" stroke-width="1.1"/>
<rect x="475.31" y="418.2" width="2.8" height="1.2" fill="#c4503f" stroke="#5f221a" stroke-width="0.7"/>
<line x1="481.95" x2="481.95" y1="409.3" y2="426.5" stroke="#404a44" stroke-width="1.1"/>
<rect x="480.55" y="410.6" width="2.8" height="9.4" fill="#2f9f6f" stroke="#23563b" stroke-width="0.7"/>
<line x1="487.19" x2="487.19" y1="399.6" y2="434.1" stroke="#404a44" stroke-width="1.1"/>
<rect x="485.79" y="404.0" width="2.8" height="7.4" fill="#2f9f6f" stroke="#23563b" stroke-width="0.7"/>
<line x1="492.43" x2="492.43" y1="390.8" y2="409.7" stroke="#404a44" stroke-width="1.1"/>
<rect x="491.03" y="397.7" width="2.8" height="4.6" fill="#2f9f6f" stroke="#23563b" stroke-width="0.7"/>
<line x1="497.67" x2="497.67" y1="397.3" y2="414.7" stroke="#404a44" stroke-width="1.1"/>
<rect x="496.27" y="397.8" width="2.8" height="14.5" fill="#c4503f" stroke="#5f221a" stroke-width="0.7"/>
<line x1="502.91" x2="502.91" y1="406.5" y2="420.7" stroke="#404a44" stroke-width="1.1"/>
<rect x="501.51" y="411.5" width="2.8" height="8.0" fill="#c4503f" stroke="#5f221a" stroke-width="0.7"/>
<line x1="508.15" x2="508.15" y1="416.8" y2="425.3" stroke="#404a44" stroke-width="1.1"/>
<rect x="506.75" y="419.4" width="2.8" height="2.3" fill="#c4503f" stroke="#5f221a" stroke-width="0.7"/>
<line x1="513.39" x2="513.39" y1="415.9" y2="423.0" stroke="#404a44" stroke-width="1.1"/>
<rect x="511.99" y="416.8" width="2.8" height="5.7" fill="#2f9f6f" stroke="#23563b" stroke-width="0.7"/>
<line x1="518.63" x2="518.63" y1="405.3" y2="418.0" stroke="#404a44" stroke-width="1.1"/>
<rect x="517.23" y="406.2" width="2.8" height="11.2" fill="#2f9f6f" stroke="#23563b" stroke-width="0.7"/>
<line x1="523.87" x2="523.87" y1="405.3" y2="412.9" stroke="#404a44" stroke-width="1.1"/>
<rect x="522.47" y="406.5" width="2.8" height="5.3" fill="#c4503f" stroke="#5f221a" stroke-width="0.7"/>
<line x1="529.11" x2="529.11" y1="402.1" y2="418.0" stroke="#404a44" stroke-width="1.1"/>
<rect x="527.71" y="405.8" width="2.8" height="11.5" fill="#c4503f" stroke="#5f221a" stroke-width="0.7"/>
<line x1="534.35" x2="534.35" y1="402.6" y2="418.0" stroke="#404a44" stroke-width="1.1"/>
<rect x="532.95" y="403.1" width="2.8" height="14.2" fill="#2f9f6f" stroke="#23563b" stroke-width="0.7"/>
<line x1="539.59" x2="539.59" y1="396.4" y2="411.5" stroke="#404a44" stroke-width="1.1"/>
<rect x="538.19" y="404.4" width="2.8" height="6.2" fill="#c4503f" stroke="#5f221a" stroke-width="0.7"/>
<line x1="544.83" x2="544.83" y1="403.0" y2="413.6" stroke="#404a44" stroke-width="1.1"/>
<rect x="543.43" y="410.1" width="2.8" height="1.4" fill="#c4503f" stroke="#5f221a" stroke-width="0.7"/>
<line x1="550.07" x2="550.07" y1="408.8" y2="420.7" stroke="#404a44" stroke-width="1.1"/>
<rect x="548.67" y="410.6" width="2.8" height="7.1" fill="#c4503f" stroke="#5f221a" stroke-width="0.7"/>
<line x1="555.31" x2="555.31" y1="405.3" y2="418.0" stroke="#404a44" stroke-width="1.1"/>
<rect x="553.91" y="407.9" width="2.8" height="9.7" fill="#2f9f6f" stroke="#23563b" stroke-width="0.7"/>
<line x1="560.55" x2="560.55" y1="399.1" y2="409.3" stroke="#404a44" stroke-width="1.1"/>
<rect x="559.15" y="399.6" width="2.8" height="9.2" fill="#2f9f6f" stroke="#23563b" stroke-width="0.7"/>
<line x1="565.79" x2="565.79" y1="385.8" y2="400.0" stroke="#404a44" stroke-width="1.1"/>
<rect x="564.39" y="393.2" width="2.8" height="6.2" fill="#2f9f6f" stroke="#23563b" stroke-width="0.7"/>
<line x1="571.03" x2="571.03" y1="388.1" y2="404.0" stroke="#404a44" stroke-width="1.1"/>
<rect x="569.63" y="392.0" width="2.8" height="11.5" fill="#c4503f" stroke="#5f221a" stroke-width="0.7"/>
<line x1="576.27" x2="576.27" y1="385.8" y2="404.0" stroke="#404a44" stroke-width="1.1"/>
<rect x="574.87" y="386.7" width="2.8" height="16.8" fill="#2f9f6f" stroke="#23563b" stroke-width="0.7"/>
<line x1="581.51" x2="581.51" y1="377.3" y2="389.0" stroke="#404a44" stroke-width="1.1"/>
<rect x="580.11" y="385.8" width="2.8" height="2.7" fill="#c4503f" stroke="#5f221a" stroke-width="0.7"/>
<line x1="586.75" x2="586.75" y1="380.5" y2="392.5" stroke="#404a44" stroke-width="1.1"/>
<rect x="585.35" y="381.9" width="2.8" height="7.1" fill="#2f9f6f" stroke="#23563b" stroke-width="0.7"/>
<line x1="591.99" x2="591.99" y1="381.9" y2="396.8" stroke="#404a44" stroke-width="1.1"/>
<rect x="590.59" y="382.2" width="2.8" height="13.8" fill="#c4503f" stroke="#5f221a" stroke-width="0.7"/>
<line x1="597.23" x2="597.23" y1="389.3" y2="402.6" stroke="#404a44" stroke-width="1.1"/>
<rect x="595.83" y="390.2" width="2.8" height="6.2" fill="#2f9f6f" stroke="#23563b" stroke-width="0.7"/>
<line x1="602.47" x2="602.47" y1="373.0" y2="394.1" stroke="#404a44" stroke-width="1.1"/>
<rect x="601.07" y="376.1" width="2.8" height="14.2" fill="#2f9f6f" stroke="#23563b" stroke-width="0.7"/>
<line x1="607.71" x2="607.71" y1="363.3" y2="379.6" stroke="#404a44" stroke-width="1.1"/>
<rect x="606.31" y="367.7" width="2.8" height="8.7" fill="#2f9f6f" stroke="#23563b" stroke-width="0.7"/>
<line x1="612.95" x2="612.95" y1="360.5" y2="416.3" stroke="#404a44" stroke-width="1.1"/>
<rect x="611.55" y="367.7" width="2.8" height="10.1" fill="#c4503f" stroke="#5f221a" stroke-width="0.7"/>
<line x1="618.19" x2="618.19" y1="357.5" y2="378.7" stroke="#404a44" stroke-width="1.1"/>
<rect x="616.79" y="359.2" width="2.8" height="18.6" fill="#2f9f6f" stroke="#23563b" stroke-width="0.7"/>
<line x1="623.43" x2="623.43" y1="352.7" y2="367.7" stroke="#404a44" stroke-width="1.1"/>
<rect x="622.03" y="355.3" width="2.8" height="4.8" fill="#2f9f6f" stroke="#23563b" stroke-width="0.7"/>
<line x1="628.67" x2="628.67" y1="353.6" y2="366.7" stroke="#404a44" stroke-width="1.1"/>
<rect x="627.27" y="355.7" width="2.8" height="1.4" fill="#c4503f" stroke="#5f221a" stroke-width="0.7"/>
<line x1="633.91" x2="633.91" y1="349.5" y2="357.5" stroke="#404a44" stroke-width="1.1"/>
<rect x="632.51" y="350.4" width="2.8" height="6.6" fill="#2f9f6f" stroke="#23563b" stroke-width="0.7"/>
<line x1="639.15" x2="639.15" y1="336.9" y2="351.6" stroke="#404a44" stroke-width="1.1"/>
<rect x="637.75" y="337.1" width="2.8" height="14.0" fill="#2f9f6f" stroke="#23563b" stroke-width="0.7"/>
<line x1="644.39" x2="644.39" y1="329.5" y2="341.0" stroke="#404a44" stroke-width="1.1"/>
<rect x="642.99" y="329.9" width="2.8" height="7.6" fill="#2f9f6f" stroke="#23563b" stroke-width="0.7"/>
<line x1="649.63" x2="649.63" y1="283.4" y2="328.6" stroke="#404a44" stroke-width="1.1"/>
<rect x="648.23" y="287.0" width="2.8" height="41.3" fill="#2f9f6f" stroke="#23563b" stroke-width="0.7"/>
<line x1="654.87" x2="654.87" y1="286.6" y2="313.2" stroke="#404a44" stroke-width="1.1"/>
<rect x="653.47" y="287.3" width="2.8" height="15.9" fill="#c4503f" stroke="#5f221a" stroke-width="0.7"/>
<line x1="660.11" x2="660.11" y1="285.8" y2="305.6" stroke="#404a44" stroke-width="1.1"/>
<rect x="658.71" y="293.2" width="2.8" height="11.0" fill="#2f9f6f" stroke="#23563b" stroke-width="0.7"/>
<line x1="665.35" x2="665.35" y1="279.0" y2="294.1" stroke="#404a44" stroke-width="1.1"/>
<rect x="663.95" y="280.8" width="2.8" height="12.8" fill="#2f9f6f" stroke="#23563b" stroke-width="0.7"/>
<line x1="670.59" x2="670.59" y1="279.9" y2="295.8" stroke="#404a44" stroke-width="1.1"/>
<rect x="669.19" y="281.3" width="2.8" height="5.7" fill="#c4503f" stroke="#5f221a" stroke-width="0.7"/>
<line x1="675.83" x2="675.83" y1="285.2" y2="293.2" stroke="#404a44" stroke-width="1.1"/>
<rect x="674.43" y="286.1" width="2.8" height="5.8" fill="#c4503f" stroke="#5f221a" stroke-width="0.7"/>
<line x1="681.07" x2="681.07" y1="289.6" y2="295.8" stroke="#404a44" stroke-width="1.1"/>
<rect x="679.67" y="290.9" width="2.8" height="2.7" fill="#c4503f" stroke="#5f221a" stroke-width="0.7"/>
<line x1="686.31" x2="686.31" y1="290.9" y2="302.9" stroke="#404a44" stroke-width="1.1"/>
<rect x="684.91" y="292.7" width="2.8" height="9.7" fill="#c4503f" stroke="#5f221a" stroke-width="0.7"/>
<line x1="691.55" x2="691.55" y1="295.0" y2="316.7" stroke="#404a44" stroke-width="1.1"/>
<rect x="690.15" y="302.9" width="2.8" height="5.7" fill="#c4503f" stroke="#5f221a" stroke-width="0.7"/>
<line x1="696.79" x2="696.79" y1="304.7" y2="318.9" stroke="#404a44" stroke-width="1.1"/>
<rect x="695.39" y="305.9" width="2.8" height="2.7" fill="#2f9f6f" stroke="#23563b" stroke-width="0.7"/>
<line x1="702.03" x2="702.03" y1="298.1" y2="307.0" stroke="#404a44" stroke-width="1.1"/>
<rect x="700.63" y="298.9" width="2.8" height="7.6" fill="#2f9f6f" stroke="#23563b" stroke-width="0.7"/>
<line x1="707.27" x2="707.27" y1="288.4" y2="301.5" stroke="#404a44" stroke-width="1.1"/>
<rect x="705.87" y="289.1" width="2.8" height="10.3" fill="#2f9f6f" stroke="#23563b" stroke-width="0.7"/>
<line x1="712.51" x2="712.51" y1="288.4" y2="300.6" stroke="#404a44" stroke-width="1.1"/>
<rect x="711.11" y="289.1" width="2.8" height="10.3" fill="#c4503f" stroke="#5f221a" stroke-width="0.7"/>
<line x1="717.75" x2="717.75" y1="287.9" y2="301.5" stroke="#404a44" stroke-width="1.1"/>
<rect x="716.35" y="288.4" width="2.8" height="11.9" fill="#2f9f6f" stroke="#23563b" stroke-width="0.7"/>
<line x1="722.99" x2="722.99" y1="287.9" y2="302.9" stroke="#404a44" stroke-width="1.1"/>
<rect x="721.59" y="289.1" width="2.8" height="13.3" fill="#c4503f" stroke="#5f221a" stroke-width="0.7"/>
<line x1="728.23" x2="728.23" y1="262.7" y2="303.8" stroke="#404a44" stroke-width="1.1"/>
<rect x="726.83" y="267.0" width="2.8" height="36.0" fill="#2f9f6f" stroke="#23563b" stroke-width="0.7"/>
<line x1="733.47" x2="733.47" y1="257.8" y2="276.4" stroke="#404a44" stroke-width="1.1"/>
<rect x="732.07" y="264.9" width="2.8" height="3.9" fill="#2f9f6f" stroke="#23563b" stroke-width="0.7"/>
<line x1="738.71" x2="738.71" y1="248.6" y2="279.9" stroke="#404a44" stroke-width="1.1"/>
<rect x="737.31" y="255.1" width="2.8" height="11.2" fill="#2f9f6f" stroke="#23563b" stroke-width="0.7"/>
<line x1="743.95" x2="743.95" y1="252.5" y2="259.5" stroke="#404a44" stroke-width="1.1"/>
<rect x="742.55" y="254.2" width="2.8" height="3.2" fill="#c4503f" stroke="#5f221a" stroke-width="0.7"/>
<line x1="749.19" x2="749.19" y1="251.6" y2="260.4" stroke="#404a44" stroke-width="1.1"/>
<rect x="747.79" y="255.5" width="2.8" height="1.9" fill="#2f9f6f" stroke="#23563b" stroke-width="0.7"/>
<line x1="754.43" x2="754.43" y1="249.3" y2="257.4" stroke="#404a44" stroke-width="1.1"/>
<rect x="753.03" y="251.0" width="2.8" height="5.5" fill="#2f9f6f" stroke="#23563b" stroke-width="0.7"/>
<line x1="759.67" x2="759.67" y1="234.7" y2="251.9" stroke="#404a44" stroke-width="1.1"/>
<rect x="758.27" y="235.6" width="2.8" height="15.9" fill="#2f9f6f" stroke="#23563b" stroke-width="0.7"/>
<line x1="764.91" x2="764.91" y1="234.7" y2="243.2" stroke="#404a44" stroke-width="1.1"/>
<rect x="763.51" y="236.0" width="2.8" height="6.7" fill="#c4503f" stroke="#5f221a" stroke-width="0.7"/>
<line x1="770.15" x2="770.15" y1="225.9" y2="240.4" stroke="#404a44" stroke-width="1.1"/>
<rect x="768.75" y="236.0" width="2.8" height="3.7" fill="#2f9f6f" stroke="#23563b" stroke-width="0.7"/>
<line x1="775.39" x2="775.39" y1="234.7" y2="248.6" stroke="#404a44" stroke-width="1.1"/>
<rect x="773.99" y="236.5" width="2.8" height="8.9" fill="#c4503f" stroke="#5f221a" stroke-width="0.7"/>
<line x1="780.63" x2="780.63" y1="245.4" y2="301.7" stroke="#404a44" stroke-width="1.1"/>
<rect x="779.23" y="245.9" width="2.8" height="33.7" fill="#c4503f" stroke="#5f221a" stroke-width="0.7"/>
<line x1="785.87" x2="785.87" y1="268.7" y2="287.5" stroke="#404a44" stroke-width="1.1"/>
<rect x="784.47" y="269.3" width="2.8" height="10.6" fill="#2f9f6f" stroke="#23563b" stroke-width="0.7"/>
<line x1="791.11" x2="791.11" y1="268.9" y2="283.4" stroke="#404a44" stroke-width="1.1"/>
<rect x="789.71" y="270.2" width="2.8" height="12.8" fill="#c4503f" stroke="#5f221a" stroke-width="0.7"/>
<line x1="796.35" x2="796.35" y1="280.4" y2="290.5" stroke="#404a44" stroke-width="1.1"/>
<rect x="794.95" y="282.0" width="2.8" height="4.1" fill="#c4503f" stroke="#5f221a" stroke-width="0.7"/>
<line x1="801.59" x2="801.59" y1="272.8" y2="287.3" stroke="#404a44" stroke-width="1.1"/>
<rect x="800.19" y="274.6" width="2.8" height="12.0" fill="#2f9f6f" stroke="#23563b" stroke-width="0.7"/>
<line x1="806.83" x2="806.83" y1="273.2" y2="293.7" stroke="#404a44" stroke-width="1.1"/>
<rect x="805.43" y="274.9" width="2.8" height="6.7" fill="#c4503f" stroke="#5f221a" stroke-width="0.7"/>
<line x1="812.07" x2="812.07" y1="273.7" y2="288.4" stroke="#404a44" stroke-width="1.1"/>
<rect x="810.67" y="276.9" width="2.8" height="4.8" fill="#2f9f6f" stroke="#23563b" stroke-width="0.7"/>
<line x1="817.31" x2="817.31" y1="276.0" y2="287.3" stroke="#404a44" stroke-width="1.1"/>
<rect x="815.91" y="277.8" width="2.8" height="3.9" fill="#c4503f" stroke="#5f221a" stroke-width="0.7"/>
<line x1="822.55" x2="822.55" y1="276.9" y2="286.1" stroke="#404a44" stroke-width="1.1"/>
<rect x="821.15" y="281.7" width="2.8" height="2.1" fill="#c4503f" stroke="#5f221a" stroke-width="0.7"/>
<line x1="827.79" x2="827.79" y1="275.5" y2="288.8" stroke="#404a44" stroke-width="1.1"/>
<rect x="826.39" y="282.0" width="2.8" height="1.8" fill="#2f9f6f" stroke="#23563b" stroke-width="0.7"/>
<line x1="833.03" x2="833.03" y1="277.8" y2="283.4" stroke="#404a44" stroke-width="1.1"/>
<rect x="831.63" y="282.6" width="2.8" height="1.0" fill="#c4503f" stroke="#5f221a" stroke-width="0.7"/>
<line x1="838.27" x2="838.27" y1="281.3" y2="301.5" stroke="#404a44" stroke-width="1.1"/>
<rect x="836.87" y="282.0" width="2.8" height="16.1" fill="#c4503f" stroke="#5f221a" stroke-width="0.7"/>
<line x1="843.51" x2="843.51" y1="291.1" y2="326.3" stroke="#404a44" stroke-width="1.1"/>
<rect x="842.11" y="297.6" width="2.8" height="27.8" fill="#c4503f" stroke="#5f221a" stroke-width="0.7"/>
<line x1="848.75" x2="848.75" y1="306.1" y2="339.2" stroke="#404a44" stroke-width="1.1"/>
<rect x="847.35" y="315.0" width="2.8" height="11.5" fill="#2f9f6f" stroke="#23563b" stroke-width="0.7"/>
<line x1="853.99" x2="853.99" y1="294.1" y2="321.0" stroke="#404a44" stroke-width="1.1"/>
<rect x="852.59" y="297.6" width="2.8" height="18.1" fill="#2f9f6f" stroke="#23563b" stroke-width="0.7"/>
<line x1="859.23" x2="859.23" y1="297.6" y2="311.8" stroke="#404a44" stroke-width="1.1"/>
<rect x="857.83" y="298.5" width="2.8" height="7.1" fill="#c4503f" stroke="#5f221a" stroke-width="0.7"/>
<line x1="864.47" x2="864.47" y1="288.4" y2="306.1" stroke="#404a44" stroke-width="1.1"/>
<rect x="863.07" y="289.1" width="2.8" height="16.5" fill="#2f9f6f" stroke="#23563b" stroke-width="0.7"/>
<line x1="869.71" x2="869.71" y1="284.9" y2="294.6" stroke="#404a44" stroke-width="1.1"/>
<rect x="868.31" y="289.1" width="2.8" height="3.5" fill="#c4503f" stroke="#5f221a" stroke-width="0.7"/>
<line x1="874.95" x2="874.95" y1="289.6" y2="300.6" stroke="#404a44" stroke-width="1.1"/>
<rect x="873.55" y="290.9" width="2.8" height="5.5" fill="#c4503f" stroke="#5f221a" stroke-width="0.7"/>
<line x1="880.19" x2="880.19" y1="280.8" y2="300.3" stroke="#404a44" stroke-width="1.1"/>
<rect x="878.79" y="287.5" width="2.8" height="8.3" fill="#2f9f6f" stroke="#23563b" stroke-width="0.7"/>
<line x1="885.43" x2="885.43" y1="287.3" y2="304.4" stroke="#404a44" stroke-width="1.1"/>
<rect x="884.03" y="288.0" width="2.8" height="15.6" fill="#c4503f" stroke="#5f221a" stroke-width="0.7"/>
<line x1="890.67" x2="890.67" y1="297.4" y2="318.6" stroke="#404a44" stroke-width="1.1"/>
<rect x="889.27" y="300.9" width="2.8" height="4.4" fill="#2f9f6f" stroke="#23563b" stroke-width="0.7"/>
<line x1="895.91" x2="895.91" y1="293.8" y2="307.6" stroke="#404a44" stroke-width="1.1"/>
<rect x="894.51" y="296.8" width="2.8" height="4.6" fill="#2f9f6f" stroke="#23563b" stroke-width="0.7"/>
<line x1="901.15" x2="901.15" y1="269.0" y2="302.3" stroke="#404a44" stroke-width="1.1"/>
<rect x="899.75" y="279.1" width="2.8" height="17.7" fill="#2f9f6f" stroke="#23563b" stroke-width="0.7"/>
<line x1="906.39" x2="906.39" y1="266.4" y2="285.8" stroke="#404a44" stroke-width="1.1"/>
<rect x="904.99" y="276.1" width="2.8" height="3.5" fill="#2f9f6f" stroke="#23563b" stroke-width="0.7"/>
<line x1="911.63" x2="911.63" y1="269.6" y2="277.9" stroke="#404a44" stroke-width="1.1"/>
<rect x="910.23" y="274.9" width="2.8" height="1.6" fill="#c4503f" stroke="#5f221a" stroke-width="0.7"/>
<line x1="916.87" x2="916.87" y1="272.6" y2="280.9" stroke="#404a44" stroke-width="1.1"/>
<rect x="915.47" y="274.7" width="2.8" height="1.0" fill="#c4503f" stroke="#5f221a" stroke-width="0.7"/>
<line x1="922.11" x2="922.11" y1="254.3" y2="275.6" stroke="#404a44" stroke-width="1.1"/>
<rect x="920.71" y="261.1" width="2.8" height="14.2" fill="#2f9f6f" stroke="#23563b" stroke-width="0.7"/>
<line x1="927.35" x2="927.35" y1="260.2" y2="274.3" stroke="#404a44" stroke-width="1.1"/>
<rect x="925.95" y="261.1" width="2.8" height="5.8" fill="#c4503f" stroke="#5f221a" stroke-width="0.7"/>
<line x1="932.59" x2="932.59" y1="265.5" y2="275.2" stroke="#404a44" stroke-width="1.1"/>
<rect x="931.19" y="266.4" width="2.8" height="8.0" fill="#c4503f" stroke="#5f221a" stroke-width="0.7"/>
<line x1="937.83" x2="937.83" y1="264.2" y2="274.3" stroke="#404a44" stroke-width="1.1"/>
<rect x="936.43" y="272.6" width="2.8" height="1.2" fill="#c4503f" stroke="#5f221a" stroke-width="0.7"/>
<line x1="943.07" x2="943.07" y1="266.0" y2="278.8" stroke="#404a44" stroke-width="1.1"/>
<rect x="941.67" y="266.9" width="2.8" height="7.4" fill="#2f9f6f" stroke="#23563b" stroke-width="0.7"/>
<line x1="948.31" x2="948.31" y1="266.0" y2="283.2" stroke="#404a44" stroke-width="1.1"/>
<rect x="946.91" y="266.9" width="2.8" height="14.0" fill="#c4503f" stroke="#5f221a" stroke-width="0.7"/>
<line x1="953.55" x2="953.55" y1="275.2" y2="295.1" stroke="#404a44" stroke-width="1.1"/>
<rect x="952.15" y="276.1" width="2.8" height="5.8" fill="#2f9f6f" stroke="#23563b" stroke-width="0.7"/>
<line x1="958.79" x2="958.79" y1="271.7" y2="279.1" stroke="#404a44" stroke-width="1.1"/>
<rect x="957.39" y="274.9" width="2.8" height="2.1" fill="#2f9f6f" stroke="#23563b" stroke-width="0.7"/>
<line x1="964.03" x2="964.03" y1="268.5" y2="275.2" stroke="#404a44" stroke-width="1.1"/>
<rect x="962.63" y="272.0" width="2.8" height="2.8" fill="#2f9f6f" stroke="#23563b" stroke-width="0.7"/>
<line x1="969.27" x2="969.27" y1="267.2" y2="291.5" stroke="#404a44" stroke-width="1.1"/>
<rect x="967.87" y="268.5" width="2.8" height="6.7" fill="#2f9f6f" stroke="#23563b" stroke-width="0.7"/>
<line x1="974.51" x2="974.51" y1="260.7" y2="282.0" stroke="#404a44" stroke-width="1.1"/>
<rect x="973.11" y="266.0" width="2.8" height="2.7" fill="#2f9f6f" stroke="#23563b" stroke-width="0.7"/>
<line x1="979.75" x2="979.75" y1="252.2" y2="268.7" stroke="#404a44" stroke-width="1.1"/>
<rect x="978.35" y="252.7" width="2.8" height="14.5" fill="#2f9f6f" stroke="#23563b" stroke-width="0.7"/>
<line x1="984.99" x2="984.99" y1="248.7" y2="259.3" stroke="#404a44" stroke-width="1.1"/>
<rect x="983.59" y="253.1" width="2.8" height="5.3" fill="#c4503f" stroke="#5f221a" stroke-width="0.7"/>
<line x1="990.23" x2="990.23" y1="256.6" y2="261.9" stroke="#404a44" stroke-width="1.1"/>
<rect x="988.83" y="257.2" width="2.8" height="4.3" fill="#c4503f" stroke="#5f221a" stroke-width="0.7"/>
<line x1="995.47" x2="995.47" y1="256.6" y2="267.8" stroke="#404a44" stroke-width="1.1"/>
<rect x="994.07" y="258.4" width="2.8" height="3.0" fill="#2f9f6f" stroke="#23563b" stroke-width="0.7"/>
<line x1="1000.71" x2="1000.71" y1="257.2" y2="300.9" stroke="#404a44" stroke-width="1.1"/>
<rect x="999.31" y="258.7" width="2.8" height="39.5" fill="#c4503f" stroke="#5f221a" stroke-width="0.7"/>
<line x1="1005.95" x2="1005.95" y1="281.4" y2="298.2" stroke="#404a44" stroke-width="1.1"/>
<rect x="1004.55" y="287.6" width="2.8" height="10.3" fill="#2f9f6f" stroke="#23563b" stroke-width="0.7"/>
<line x1="1011.19" x2="1011.19" y1="276.1" y2="289.7" stroke="#404a44" stroke-width="1.1"/>
<rect x="1009.79" y="287.6" width="2.8" height="1.8" fill="#c4503f" stroke="#5f221a" stroke-width="0.7"/>
<line x1="1016.43" x2="1016.43" y1="268.1" y2="293.8" stroke="#404a44" stroke-width="1.1"/>
<rect x="1015.03" y="270.4" width="2.8" height="19.3" fill="#2f9f6f" stroke="#23563b" stroke-width="0.7"/>
<line x1="1021.67" x2="1021.67" y1="262.8" y2="277.9" stroke="#404a44" stroke-width="1.1"/>
<rect x="1020.27" y="267.8" width="2.8" height="3.0" fill="#2f9f6f" stroke="#23563b" stroke-width="0.7"/>
<line x1="1026.91" x2="1026.91" y1="265.5" y2="280.5" stroke="#404a44" stroke-width="1.1"/>
<rect x="1025.51" y="268.1" width="2.8" height="6.2" fill="#c4503f" stroke="#5f221a" stroke-width="0.7"/>
<line x1="1032.15" x2="1032.15" y1="266.7" y2="274.9" stroke="#404a44" stroke-width="1.1"/>
<rect x="1030.75" y="267.2" width="2.8" height="7.1" fill="#2f9f6f" stroke="#23563b" stroke-width="0.7"/>
<line x1="1037.39" x2="1037.39" y1="262.8" y2="269.0" stroke="#404a44" stroke-width="1.1"/>
<rect x="1035.99" y="267.2" width="2.8" height="1.0" fill="#2f9f6f" stroke="#23563b" stroke-width="0.7"/>
<line x1="1042.63" x2="1042.63" y1="258.7" y2="269.0" stroke="#404a44" stroke-width="1.1"/>
<rect x="1041.23" y="262.5" width="2.8" height="5.7" fill="#2f9f6f" stroke="#23563b" stroke-width="0.7"/>
<line x1="1047.87" x2="1047.87" y1="262.3" y2="269.0" stroke="#404a44" stroke-width="1.1"/>
<rect x="1046.47" y="262.8" width="2.8" height="5.0" fill="#c4503f" stroke="#5f221a" stroke-width="0.7"/>
<line x1="1053.11" x2="1053.11" y1="266.0" y2="276.6" stroke="#404a44" stroke-width="1.1"/>
<rect x="1051.71" y="266.7" width="2.8" height="6.7" fill="#c4503f" stroke="#5f221a" stroke-width="0.7"/>
<line x1="1058.35" x2="1058.35" y1="268.1" y2="285.0" stroke="#404a44" stroke-width="1.1"/>
<rect x="1056.95" y="272.6" width="2.8" height="5.3" fill="#c4503f" stroke="#5f221a" stroke-width="0.7"/>
<line x1="1063.59" x2="1063.59" y1="269.6" y2="280.9" stroke="#404a44" stroke-width="1.1"/>
<rect x="1062.19" y="272.6" width="2.8" height="6.2" fill="#2f9f6f" stroke="#23563b" stroke-width="0.7"/>
<line x1="1068.83" x2="1068.83" y1="269.9" y2="285.8" stroke="#404a44" stroke-width="1.1"/>
<rect x="1067.43" y="271.3" width="2.8" height="11.9" fill="#c4503f" stroke="#5f221a" stroke-width="0.7"/>
<line x1="1074.07" x2="1074.07" y1="278.4" y2="289.4" stroke="#404a44" stroke-width="1.1"/>
<rect x="1072.67" y="283.7" width="2.8" height="4.8" fill="#c4503f" stroke="#5f221a" stroke-width="0.7"/>
<line x1="1079.31" x2="1079.31" y1="271.7" y2="292.9" stroke="#404a44" stroke-width="1.1"/>
<rect x="1077.91" y="273.1" width="2.8" height="15.4" fill="#2f9f6f" stroke="#23563b" stroke-width="0.7"/>
<line x1="1084.55" x2="1084.55" y1="273.1" y2="287.3" stroke="#404a44" stroke-width="1.1"/>
<rect x="1083.15" y="273.8" width="2.8" height="12.9" fill="#c4503f" stroke="#5f221a" stroke-width="0.7"/>
<line x1="1089.79" x2="1089.79" y1="279.6" y2="305.0" stroke="#404a44" stroke-width="1.1"/>
<rect x="1088.39" y="287.3" width="2.8" height="1.0" fill="#2f9f6f" stroke="#23563b" stroke-width="0.7"/>
<line x1="1095.03" x2="1095.03" y1="267.2" y2="312.1" stroke="#404a44" stroke-width="1.1"/>
<rect x="1093.63" y="272.6" width="2.8" height="16.8" fill="#2f9f6f" stroke="#23563b" stroke-width="0.7"/>
<line x1="1100.27" x2="1100.27" y1="271.3" y2="278.8" stroke="#404a44" stroke-width="1.1"/>
<rect x="1098.87" y="272.6" width="2.8" height="5.3" fill="#c4503f" stroke="#5f221a" stroke-width="0.7"/>
<line x1="1105.51" x2="1105.51" y1="269.6" y2="289.4" stroke="#404a44" stroke-width="1.1"/>
<rect x="1104.11" y="277.0" width="2.8" height="9.4" fill="#c4503f" stroke="#5f221a" stroke-width="0.7"/>
<line x1="1110.75" x2="1110.75" y1="273.1" y2="290.8" stroke="#404a44" stroke-width="1.1"/>
<rect x="1109.35" y="276.6" width="2.8" height="9.2" fill="#2f9f6f" stroke="#23563b" stroke-width="0.7"/>
<line x1="1115.99" x2="1115.99" y1="266.4" y2="277.0" stroke="#404a44" stroke-width="1.1"/>
<rect x="1114.59" y="271.7" width="2.8" height="4.4" fill="#2f9f6f" stroke="#23563b" stroke-width="0.7"/>
<line x1="1121.23" x2="1121.23" y1="261.4" y2="272.6" stroke="#404a44" stroke-width="1.1"/>
<rect x="1119.83" y="265.1" width="2.8" height="6.9" fill="#2f9f6f" stroke="#23563b" stroke-width="0.7"/>
<line x1="1126.47" x2="1126.47" y1="261.4" y2="274.7" stroke="#404a44" stroke-width="1.1"/>
<rect x="1125.07" y="264.2" width="2.8" height="9.6" fill="#c4503f" stroke="#5f221a" stroke-width="0.7"/>
<line x1="1131.71" x2="1131.71" y1="270.3" y2="278.3" stroke="#404a44" stroke-width="1.1"/>
<rect x="1130.31" y="270.7" width="2.8" height="5.8" fill="#c4503f" stroke="#5f221a" stroke-width="0.7"/>
<line x1="1136.95" x2="1136.95" y1="266.8" y2="282.7" stroke="#404a44" stroke-width="1.1"/>
<rect x="1135.55" y="275.3" width="2.8" height="4.8" fill="#c4503f" stroke="#5f221a" stroke-width="0.7"/>
<line x1="1142.19" x2="1142.19" y1="265.9" y2="286.3" stroke="#404a44" stroke-width="1.1"/>
<rect x="1140.79" y="266.4" width="2.8" height="15.1" fill="#2f9f6f" stroke="#23563b" stroke-width="0.7"/>
<line x1="1147.43" x2="1147.43" y1="262.4" y2="281.0" stroke="#404a44" stroke-width="1.1"/>
<rect x="1146.03" y="267.1" width="2.8" height="8.9" fill="#c4503f" stroke="#5f221a" stroke-width="0.7"/>
<line x1="1152.67" x2="1152.67" y1="269.4" y2="275.6" stroke="#404a44" stroke-width="1.1"/>
<rect x="1151.27" y="273.5" width="2.8" height="1.0" fill="#2f9f6f" stroke="#23563b" stroke-width="0.7"/>
<line x1="1157.91" x2="1157.91" y1="270.3" y2="277.1" stroke="#404a44" stroke-width="1.1"/>
<rect x="1156.51" y="274.2" width="2.8" height="2.3" fill="#c4503f" stroke="#5f221a" stroke-width="0.7"/>
<line x1="1163.15" x2="1163.15" y1="262.4" y2="276.5" stroke="#404a44" stroke-width="1.1"/>
<rect x="1161.75" y="264.1" width="2.8" height="12.0" fill="#2f9f6f" stroke="#23563b" stroke-width="0.7"/>
<line x1="1168.39" x2="1168.39" y1="262.4" y2="273.5" stroke="#404a44" stroke-width="1.1"/>
<rect x="1166.99" y="264.1" width="2.8" height="8.9" fill="#c4503f" stroke="#5f221a" stroke-width="0.7"/>
<line x1="1173.63" x2="1173.63" y1="269.4" y2="281.0" stroke="#404a44" stroke-width="1.1"/>
<rect x="1172.23" y="272.5" width="2.8" height="8.1" fill="#c4503f" stroke="#5f221a" stroke-width="0.7"/>
<line x1="1178.87" x2="1178.87" y1="275.6" y2="281.0" stroke="#404a44" stroke-width="1.1"/>
<rect x="1177.47" y="277.4" width="2.8" height="2.3" fill="#2f9f6f" stroke="#23563b" stroke-width="0.7"/>
<line x1="1184.11" x2="1184.11" y1="275.6" y2="282.4" stroke="#404a44" stroke-width="1.1"/>
<rect x="1182.71" y="277.9" width="2.8" height="3.0" fill="#c4503f" stroke="#5f221a" stroke-width="0.7"/>
<line x1="1189.35" x2="1189.35" y1="277.1" y2="284.5" stroke="#404a44" stroke-width="1.1"/>
<rect x="1187.95" y="278.8" width="2.8" height="2.5" fill="#2f9f6f" stroke="#23563b" stroke-width="0.7"/>
<line x1="1194.59" x2="1194.59" y1="273.0" y2="282.4" stroke="#404a44" stroke-width="1.1"/>
<rect x="1193.19" y="273.5" width="2.8" height="6.6" fill="#2f9f6f" stroke="#23563b" stroke-width="0.7"/>
<line x1="1199.83" x2="1199.83" y1="269.4" y2="274.8" stroke="#404a44" stroke-width="1.1"/>
<rect x="1198.43" y="271.2" width="2.8" height="2.7" fill="#2f9f6f" stroke="#23563b" stroke-width="0.7"/>
<line x1="1205.07" x2="1205.07" y1="232.8" y2="274.8" stroke="#404a44" stroke-width="1.1"/>
<rect x="1203.67" y="246.1" width="2.8" height="27.5" fill="#2f9f6f" stroke="#23563b" stroke-width="0.7"/>
<line x1="1210.31" x2="1210.31" y1="236.7" y2="252.3" stroke="#404a44" stroke-width="1.1"/>
<rect x="1208.91" y="244.6" width="2.8" height="1.2" fill="#2f9f6f" stroke="#23563b" stroke-width="0.7"/>
<line x1="1215.55" x2="1215.55" y1="228.7" y2="250.5" stroke="#404a44" stroke-width="1.1"/>
<rect x="1214.15" y="234.0" width="2.8" height="11.5" fill="#2f9f6f" stroke="#23563b" stroke-width="0.7"/>
<line x1="1220.79" x2="1220.79" y1="219.9" y2="245.5" stroke="#404a44" stroke-width="1.1"/>
<rect x="1219.39" y="233.1" width="2.8" height="9.2" fill="#c4503f" stroke="#5f221a" stroke-width="0.7"/>
<line x1="1226.03" x2="1226.03" y1="235.3" y2="246.8" stroke="#404a44" stroke-width="1.1"/>
<rect x="1224.63" y="237.0" width="2.8" height="4.6" fill="#2f9f6f" stroke="#23563b" stroke-width="0.7"/>
<line x1="1231.27" x2="1231.27" y1="228.7" y2="245.5" stroke="#404a44" stroke-width="1.1"/>
<rect x="1229.87" y="229.6" width="2.8" height="8.0" fill="#2f9f6f" stroke="#23563b" stroke-width="0.7"/>
<line x1="1236.51" x2="1236.51" y1="224.3" y2="232.6" stroke="#404a44" stroke-width="1.1"/>
<rect x="1235.11" y="225.7" width="2.8" height="4.4" fill="#2f9f6f" stroke="#23563b" stroke-width="0.7"/>
<line x1="1241.75" x2="1241.75" y1="214.0" y2="227.0" stroke="#404a44" stroke-width="1.1"/>
<rect x="1240.35" y="215.5" width="2.8" height="10.9" fill="#2f9f6f" stroke="#23563b" stroke-width="0.7"/>
<line x1="1246.99" x2="1246.99" y1="203.9" y2="220.7" stroke="#404a44" stroke-width="1.1"/>
<rect x="1245.59" y="204.9" width="2.8" height="13.0" fill="#2f9f6f" stroke="#23563b" stroke-width="0.7"/>
<line x1="1252.23" x2="1252.23" y1="122.4" y2="185.4" stroke="#404a44" stroke-width="1.1"/>
<rect x="1250.83" y="125.9" width="2.8" height="52.9" fill="#2f9f6f" stroke="#23563b" stroke-width="0.7"/>
<line x1="1257.47" x2="1257.47" y1="125.3" y2="159.1" stroke="#404a44" stroke-width="1.1"/>
<rect x="1256.07" y="126.3" width="2.8" height="29.2" fill="#c4503f" stroke="#5f221a" stroke-width="0.7"/>
<line x1="1262.71" x2="1262.71" y1="154.9" y2="186.0" stroke="#404a44" stroke-width="1.1"/>
<rect x="1261.31" y="155.4" width="2.8" height="16.6" fill="#c4503f" stroke="#5f221a" stroke-width="0.7"/>
<line x1="1267.95" x2="1267.95" y1="152.0" y2="176.8" stroke="#404a44" stroke-width="1.1"/>
<rect x="1266.55" y="154.9" width="2.8" height="17.2" fill="#2f9f6f" stroke="#23563b" stroke-width="0.7"/>
<line x1="1273.19" x2="1273.19" y1="140.6" y2="155.8" stroke="#404a44" stroke-width="1.1"/>
<rect x="1271.79" y="141.5" width="2.8" height="13.9" fill="#2f9f6f" stroke="#23563b" stroke-width="0.7"/>
<line x1="1278.43" x2="1278.43" y1="140.6" y2="154.9" stroke="#404a44" stroke-width="1.1"/>
<rect x="1277.03" y="141.1" width="2.8" height="8.0" fill="#c4503f" stroke="#5f221a" stroke-width="0.7"/>
<line x1="1283.67" x2="1283.67" y1="140.6" y2="159.1" stroke="#404a44" stroke-width="1.1"/>
<rect x="1282.27" y="141.5" width="2.8" height="7.6" fill="#2f9f6f" stroke="#23563b" stroke-width="0.7"/>
<line x1="1288.91" x2="1288.91" y1="124.0" y2="142.5" stroke="#404a44" stroke-width="1.1"/>
<rect x="1287.51" y="124.9" width="2.8" height="17.0" fill="#2f9f6f" stroke="#23563b" stroke-width="0.7"/>
<line x1="1294.15" x2="1294.15" y1="102.4" y2="126.8" stroke="#404a44" stroke-width="1.1"/>
<rect x="1292.75" y="110.0" width="2.8" height="16.2" fill="#2f9f6f" stroke="#23563b" stroke-width="0.7"/>
<line x1="1299.39" x2="1299.39" y1="104.9" y2="122.1" stroke="#404a44" stroke-width="1.1"/>
<rect x="1297.99" y="111.4" width="2.8" height="10.1" fill="#c4503f" stroke="#5f221a" stroke-width="0.7"/>
<line x1="1304.63" x2="1304.63" y1="115.4" y2="125.9" stroke="#404a44" stroke-width="1.1"/>
<rect x="1303.23" y="120.5" width="2.8" height="1.9" fill="#c4503f" stroke="#5f221a" stroke-width="0.7"/>
<line x1="1309.87" x2="1309.87" y1="115.4" y2="131.0" stroke="#404a44" stroke-width="1.1"/>
<rect x="1308.47" y="123.0" width="2.8" height="2.7" fill="#c4503f" stroke="#5f221a" stroke-width="0.7"/>
<line x1="1315.11" x2="1315.11" y1="116.7" y2="134.5" stroke="#404a44" stroke-width="1.1"/>
<rect x="1313.71" y="124.0" width="2.8" height="4.2" fill="#c4503f" stroke="#5f221a" stroke-width="0.7"/>
<line x1="1320.35" x2="1320.35" y1="117.7" y2="131.0" stroke="#404a44" stroke-width="1.1"/>
<rect x="1318.95" y="118.6" width="2.8" height="9.2" fill="#2f9f6f" stroke="#23563b" stroke-width="0.7"/>
<line x1="1325.59" x2="1325.59" y1="104.3" y2="129.1" stroke="#404a44" stroke-width="1.1"/>
<rect x="1324.19" y="119.6" width="2.8" height="1.5" fill="#c4503f" stroke="#5f221a" stroke-width="0.7"/>
<line x1="1330.83" x2="1330.83" y1="119.6" y2="184.4" stroke="#404a44" stroke-width="1.1"/>
<rect x="1329.43" y="121.1" width="2.8" height="44.3" fill="#c4503f" stroke="#5f221a" stroke-width="0.7"/>
<line x1="1336.07" x2="1336.07" y1="154.5" y2="182.9" stroke="#404a44" stroke-width="1.1"/>
<rect x="1334.67" y="168.2" width="2.8" height="10.1" fill="#c4503f" stroke="#5f221a" stroke-width="0.7"/>
<line x1="1341.31" x2="1341.31" y1="178.7" y2="218.2" stroke="#404a44" stroke-width="1.1"/>
<rect x="1339.91" y="179.3" width="2.8" height="17.9" fill="#c4503f" stroke="#5f221a" stroke-width="0.7"/>
<line x1="1346.55" x2="1346.55" y1="174.9" y2="198.8" stroke="#404a44" stroke-width="1.1"/>
<rect x="1345.15" y="184.4" width="2.8" height="13.4" fill="#2f9f6f" stroke="#23563b" stroke-width="0.7"/>
<line x1="1351.79" x2="1351.79" y1="176.8" y2="197.4" stroke="#404a44" stroke-width="1.1"/>
<rect x="1350.39" y="178.2" width="2.8" height="6.9" fill="#2f9f6f" stroke="#23563b" stroke-width="0.7"/>
<line x1="1357.03" x2="1357.03" y1="165.4" y2="179.3" stroke="#404a44" stroke-width="1.1"/>
<rect x="1355.63" y="166.3" width="2.8" height="12.0" fill="#2f9f6f" stroke="#23563b" stroke-width="0.7"/>
<line x1="1362.27" x2="1362.27" y1="155.4" y2="168.2" stroke="#404a44" stroke-width="1.1"/>
<rect x="1360.87" y="165.9" width="2.8" height="1.7" fill="#2f9f6f" stroke="#23563b" stroke-width="0.7"/>
<line x1="1367.51" x2="1367.51" y1="161.2" y2="174.5" stroke="#404a44" stroke-width="1.1"/>
<rect x="1366.11" y="165.4" width="2.8" height="8.6" fill="#c4503f" stroke="#5f221a" stroke-width="0.7"/>
<line x1="1372.75" x2="1372.75" y1="154.9" y2="166.9" stroke="#404a44" stroke-width="1.1"/>
<rect x="1371.35" y="156.2" width="2.8" height="8.2" fill="#2f9f6f" stroke="#23563b" stroke-width="0.7"/>
<line x1="1377.99" x2="1377.99" y1="144.8" y2="162.5" stroke="#404a44" stroke-width="1.1"/>
<rect x="1376.59" y="153.0" width="2.8" height="3.8" fill="#2f9f6f" stroke="#23563b" stroke-width="0.7"/>
<line x1="1383.23" x2="1383.23" y1="131.6" y2="161.9" stroke="#404a44" stroke-width="1.1"/>
<rect x="1381.83" y="153.5" width="2.8" height="7.6" fill="#c4503f" stroke="#5f221a" stroke-width="0.7"/>
<line x1="1388.47" x2="1388.47" y1="146.3" y2="164.4" stroke="#404a44" stroke-width="1.1"/>
<rect x="1387.07" y="146.9" width="2.8" height="15.6" fill="#2f9f6f" stroke="#23563b" stroke-width="0.7"/>
<path d="M191.0,418.3H197.0M194.0,415.3V421.3" stroke="#3b3b9c" stroke-width="1.6"/>
<path d="M384.9,455.6H390.9M387.9,452.6V458.6" stroke="#3b3b9c" stroke-width="1.6"/>
<path d="M876.8,288.4H882.8M879.8,285.4V291.4" stroke="#3b3b9c" stroke-width="1.6"/>
<path d="M977.1,276.6H983.1M980.1,273.6V279.6" stroke="#3b3b9c" stroke-width="1.6"/>
<path d="M1202.3,273.3H1208.3M1205.3,270.3V276.3" stroke="#3b3b9c" stroke-width="1.6"/>
</g>
<g clip-path="url(#rsic)">
<rect x="7" y="607.5" width="1525.5" height="73.2" fill="#f1e4f3"/>
<line x1="7" x2="1532" y1="607.5" y2="607.5" stroke="#a0a0a0" stroke-width="1.3" stroke-dasharray="5,4.5"/>
<line x1="7" x2="1532" y1="680.7" y2="680.7" stroke="#a0a0a0" stroke-width="1.3" stroke-dasharray="5,4.5"/>
<path d="M10.3,633.4 L15.6,627.7 L20.8,643.3 L26.1,623.9 L31.3,617.2 L36.6,612.8 L41.8,618.2 L47.0,614.7 L52.3,609.6 L57.5,631.5 L62.8,635.7 L68.0,625.4 L73.2,652.9 L78.5,657.7 L83.7,664.5 L89.0,652.5 L94.2,647.4 L99.4,637.8 L104.7,637.6 L109.9,632.1 L115.2,641.1 L120.4,643.3 L125.6,645.4 L130.9,652.9 L136.1,661.7 L141.3,670.1 L146.6,657.3 L151.8,651.2 L157.1,646.2 L162.3,652.9 L167.6,653.8 L172.8,697.3 L178.0,669.3 L183.3,659.2 L188.5,665.3 L193.8,669.1 L199.0,697.7 L204.2,677.3 L209.5,671.2 L214.7,667.4 L220.0,663.9 L225.2,671.0 L230.4,655.9 L235.7,652.9 L240.9,684.4 L246.2,687.2 L251.4,673.1 L256.6,677.7 L261.9,678.8 L267.1,650.0 L272.4,661.1 L277.6,662.4 L282.8,662.6 L288.1,673.5 L293.3,658.2 L298.6,645.8 L303.8,635.3 L309.0,625.4 L314.3,618.2 L319.5,619.7 L324.8,621.4 L330.0,622.6 L335.2,637.6 L340.5,637.6 L345.7,640.5 L351.0,643.0 L356.2,614.0 L361.4,605.8 L366.7,590.1 L371.9,588.0 L377.2,586.7 L382.4,589.2 L387.6,606.7 L392.9,616.8 L398.1,612.8 L403.4,624.8 L408.6,627.3 L413.8,646.4 L419.1,633.4 L424.3,639.7 L429.6,625.8 L434.8,622.9 L440.0,611.9 L445.3,598.7 L450.5,610.5 L455.8,606.3 L461.0,634.0 L466.2,636.9 L471.5,646.2 L476.7,646.4 L482.0,632.9 L487.2,623.9 L492.4,617.2 L497.7,640.7 L502.9,651.6 L508.2,655.0 L513.4,646.8 L518.6,631.1 L523.9,638.2 L529.1,648.7 L534.4,628.7 L539.6,639.2 L544.8,641.1 L550.1,650.6 L555.3,636.3 L560.6,623.9 L565.8,616.8 L571.0,637.2 L576.3,618.2 L581.5,619.1 L586.8,614.4 L592.0,635.3 L597.2,628.7 L602.5,615.3 L607.7,608.3 L613.0,623.9 L618.2,607.7 L623.4,605.2 L628.7,607.1 L633.9,602.0 L639.2,594.0 L644.4,589.2 L649.6,574.3 L654.9,596.2 L660.1,592.0 L665.4,588.2 L670.6,595.3 L675.8,602.0 L681.1,605.2 L686.3,617.8 L691.6,628.7 L696.8,625.8 L702.0,619.1 L707.3,610.5 L712.5,625.4 L717.8,616.3 L723.0,636.3 L728.2,610.0 L733.5,607.7 L738.7,602.3 L744.0,604.2 L749.2,603.3 L754.4,600.1 L759.7,591.5 L764.9,602.9 L770.2,598.7 L775.4,615.3 L780.6,655.0 L785.9,645.3 L791.1,657.3 L796.4,659.2 L801.6,647.2 L806.8,653.5 L812.1,648.3 L817.3,653.5 L822.6,654.8 L827.8,653.5 L833.0,653.5 L838.3,673.5 L843.5,692.6 L848.8,677.3 L854.0,654.8 L859.2,660.1 L864.5,642.0 L869.7,645.3 L875.0,650.0 L880.2,640.7 L885.4,656.9 L890.7,654.4 L895.9,648.1 L901.2,627.7 L906.4,625.8 L911.6,624.5 L916.9,623.5 L922.1,609.6 L927.4,619.1 L932.6,631.9 L937.8,631.1 L943.1,623.9 L948.3,645.8 L953.6,638.6 L958.8,637.2 L964.0,634.0 L969.3,628.3 L974.5,623.5 L979.8,607.1 L985.0,615.3 L990.2,624.5 L995.5,622.0 L1000.7,677.3 L1006.0,662.6 L1011.2,663.6 L1016.4,638.6 L1021.7,636.9 L1026.9,643.0 L1032.2,635.7 L1037.4,635.3 L1042.6,630.2 L1047.9,636.9 L1053.1,646.8 L1058.3,653.5 L1063.6,644.3 L1068.8,662.0 L1074.1,667.8 L1079.3,642.4 L1084.5,658.8 L1089.8,660.1 L1095.0,637.6 L1100.3,643.9 L1105.5,655.7 L1110.8,642.4 L1116.0,634.8 L1121.2,626.8 L1126.5,640.5 L1131.7,641.1 L1137.0,651.9 L1142.2,631.0 L1147.4,643.0 L1152.7,643.0 L1157.9,645.3 L1163.1,627.3 L1168.4,641.1 L1173.6,652.9 L1178.9,649.3 L1184.1,652.5 L1189.3,650.6 L1194.6,638.2 L1199.8,636.3 L1205.1,603.9 L1210.3,603.5 L1215.5,594.7 L1220.8,610.5 L1226.0,607.3 L1231.3,600.1 L1236.5,597.8 L1241.8,590.5 L1247.0,583.8 L1252.2,563.8 L1257.5,597.2 L1262.7,612.5 L1268.0,605.8 L1273.2,600.6 L1278.4,608.6 L1283.7,605.4 L1288.9,599.1 L1294.1,593.8 L1299.4,605.2 L1304.6,607.3 L1309.9,609.6 L1315.1,612.8 L1320.3,607.3 L1325.6,610.5 L1330.8,657.3 L1336.1,666.8 L1341.3,675.4 L1346.5,663.6 L1351.8,658.2 L1357.0,647.7 L1362.3,646.2 L1367.5,653.1 L1372.8,636.9 L1378.0,633.4 L1383.2,642.0 L1388.5,628.3" fill="none" stroke="#a853a8" stroke-width="1.6" stroke-linejoin="round"/>
</g>
<line x1="1532.5" x2="1532.5" y1="53" y2="706" stroke="#737373" stroke-width="1.5"/>
<line x1="7" x2="1533" y1="705.6" y2="705.6" stroke="#737373" stroke-width="1.3"/>
<line x1="7" x2="1593.5" y1="549.1" y2="549.1" stroke="#4a4a4a" stroke-width="1.3"/>
<line x1="1593.5" x2="1593.5" y1="53" y2="724.5" stroke="#000" stroke-width="1.2"/>
<line x1="1533" x2="1536.5" y1="517.5" y2="517.5" stroke="#737373" stroke-width="1.2"/>
<text x="1539.8" y="521.8" font-size="12" fill="#626262" textLength="42.4" lengthAdjust="spacingAndGlyphs">4850.00</text>
<line x1="1533" x2="1536.5" y1="481.1" y2="481.1" stroke="#737373" stroke-width="1.2"/>
<text x="1539.8" y="485.4" font-size="12" fill="#626262" textLength="42.4" lengthAdjust="spacingAndGlyphs">4900.00</text>
<line x1="1533" x2="1536.5" y1="444.6" y2="444.6" stroke="#737373" stroke-width="1.2"/>
<text x="1539.8" y="448.9" font-size="12" fill="#626262" textLength="42.4" lengthAdjust="spacingAndGlyphs">4950.00</text>
<line x1="1533" x2="1536.5" y1="408.2" y2="408.2" stroke="#737373" stroke-width="1.2"/>
<text x="1539.8" y="412.5" font-size="12" fill="#626262" textLength="42.4" lengthAdjust="spacingAndGlyphs">5000.00</text>
<line x1="1533" x2="1536.5" y1="371.8" y2="371.8" stroke="#737373" stroke-width="1.2"/>
<text x="1539.8" y="376.1" font-size="12" fill="#626262" textLength="42.4" lengthAdjust="spacingAndGlyphs">5050.00</text>
<line x1="1533" x2="1536.5" y1="335.4" y2="335.4" stroke="#737373" stroke-width="1.2"/>
<text x="1539.8" y="339.7" font-size="12" fill="#626262" textLength="42.4" lengthAdjust="spacingAndGlyphs">5100.00</text>
<line x1="1533" x2="1536.5" y1="299.0" y2="299.0" stroke="#737373" stroke-width="1.2"/>
<text x="1539.8" y="303.3" font-size="12" fill="#626262" textLength="42.4" lengthAdjust="spacingAndGlyphs">5150.00</text>
<line x1="1533" x2="1536.5" y1="262.5" y2="262.5" stroke="#737373" stroke-width="1.2"/>
<text x="1539.8" y="266.8" font-size="12" fill="#626262" textLength="42.4" lengthAdjust="spacingAndGlyphs">5200.00</text>
<line x1="1533" x2="1536.5" y1="226.1" y2="226.1" stroke="#737373" stroke-width="1.2"/>
<text x="1539.8" y="230.4" font-size="12" fill="#626262" textLength="42.4" lengthAdjust="spacingAndGlyphs">5250.00</text>
<line x1="1533" x2="1536.5" y1="189.7" y2="189.7" stroke="#737373" stroke-width="1.2"/>
<text x="1539.8" y="194.0" font-size="12" fill="#626262" textLength="42.4" lengthAdjust="spacingAndGlyphs">5300.00</text>
<line x1="1533" x2="1536.5" y1="153.2" y2="153.2" stroke="#737373" stroke-width="1.2"/>
<text x="1539.8" y="157.6" font-size="12" fill="#626262" textLength="42.4" lengthAdjust="spacingAndGlyphs">5350.00</text>
<line x1="1533" x2="1536.5" y1="116.8" y2="116.8" stroke="#737373" stroke-width="1.2"/>
<text x="1539.8" y="121.1" font-size="12" fill="#626262" textLength="42.4" lengthAdjust="spacingAndGlyphs">5400.00</text>
<line x1="1533" x2="1536.5" y1="80.4" y2="80.4" stroke="#737373" stroke-width="1.2"/>
<text x="1539.8" y="84.7" font-size="12" fill="#626262" textLength="42.4" lengthAdjust="spacingAndGlyphs">5450.00</text>
<line x1="1533" x2="1536.5" y1="552.6" y2="552.6" stroke="#737373" stroke-width="1.2"/>
<text x="1539.8" y="556.9" font-size="12" fill="#626262" textLength="49" lengthAdjust="spacingAndGlyphs">100.0000</text>
<line x1="1533" x2="1536.5" y1="589.2" y2="589.2" stroke="#737373" stroke-width="1.2"/>
<text x="1539.8" y="593.5" font-size="12" fill="#626262" textLength="42.4" lengthAdjust="spacingAndGlyphs">80.0000</text>
<line x1="1533" x2="1536.5" y1="662.4" y2="662.4" stroke="#737373" stroke-width="1.2"/>
<text x="1539.8" y="666.7" font-size="12" fill="#626262" textLength="42.4" lengthAdjust="spacingAndGlyphs">40.0000</text>
<line x1="1533" x2="1536.5" y1="699.0" y2="699.0" stroke="#737373" stroke-width="1.2"/>
<text x="1539.8" y="703.3" font-size="12" fill="#626262" textLength="42.4" lengthAdjust="spacingAndGlyphs">20.0000</text>
<rect x="1532.2" y="139.3" width="54.8" height="16.69999999999999" fill="#4169e1"/>
<line x1="1533" x2="1537" y1="147.65" y2="147.65" stroke="#fff" stroke-width="1"/>
<text x="1539.8" y="151.8" font-size="12" fill="#fff" textLength="42.6" lengthAdjust="spacingAndGlyphs">5358.85</text>
<rect x="1532.2" y="156" width="54.8" height="17.19999999999999" fill="#ee0a14"/>
<line x1="1533" x2="1537" y1="164.6" y2="164.6" stroke="#fff" stroke-width="1"/>
<text x="1539.8" y="168.8" font-size="12" fill="#fff" textLength="42.6" lengthAdjust="spacingAndGlyphs">5354.59</text>
<rect x="1532.2" y="191.8" width="54.8" height="16.899999999999977" fill="#008000"/>
<line x1="1533" x2="1537" y1="200.25" y2="200.25" stroke="#fff" stroke-width="1"/>
<text x="1539.8" y="204.4" font-size="12" fill="#fff" textLength="42.6" lengthAdjust="spacingAndGlyphs">5286.89</text>
<rect x="1532.2" y="620.8" width="54.8" height="16.0" fill="#800080"/>
<line x1="1533" x2="1537" y1="628.8" y2="628.8" stroke="#fff" stroke-width="1"/>
<text x="1539.8" y="633.0" font-size="12" fill="#fff" textLength="42.6" lengthAdjust="spacingAndGlyphs">58.0440</text>
<line x1="26.5" x2="26.5" y1="706" y2="709.5" stroke="#737373" stroke-width="1.2"/>
<line x1="147.5" x2="147.5" y1="706" y2="709.5" stroke="#737373" stroke-width="1.2"/>
<line x1="257.5" x2="257.5" y1="706" y2="709.5" stroke="#737373" stroke-width="1.2"/>
<line x1="378.5" x2="378.5" y1="706" y2="709.5" stroke="#737373" stroke-width="1.2"/>
<line x1="499" x2="499" y1="706" y2="709.5" stroke="#737373" stroke-width="1.2"/>
<line x1="619" x2="619" y1="706" y2="709.5" stroke="#737373" stroke-width="1.2"/>
<line x1="739.5" x2="739.5" y1="706" y2="709.5" stroke="#737373" stroke-width="1.2"/>
<line x1="860.5" x2="860.5" y1="706" y2="709.5" stroke="#737373" stroke-width="1.2"/>
<line x1="981" x2="981" y1="706" y2="709.5" stroke="#737373" stroke-width="1.2"/>
<line x1="1101.5" x2="1101.5" y1="706" y2="709.5" stroke="#737373" stroke-width="1.2"/>
<line x1="1252.6" x2="1252.6" y1="706" y2="709.5" stroke="#737373" stroke-width="1.2"/>
<line x1="1342.3" x2="1342.3" y1="706" y2="709.5" stroke="#737373" stroke-width="1.2"/>
<line x1="1462.5" x2="1462.5" y1="706" y2="709.5" stroke="#737373" stroke-width="1.2"/>
<text x="26.5" y="721.3" font-size="11" fill="#555" text-anchor="middle">14</text>
<text x="1252.6" y="721.2" font-size="11.6" font-weight="bold" fill="#444" text-anchor="middle">Mar</text>
<g>
<rect x="13" y="511" width="32.5" height="32" rx="5.2" fill="#000"/>
<rect x="17.7" y="518" width="6.9" height="18" rx="3.45" fill="#fff"/>
<rect x="25.85" y="522.3" width="6.8" height="13.7" rx="3.4" fill="#fff"/>
<rect x="34" y="518" width="6.9" height="18" rx="3.45" fill="#fff"/>
<path d="M55,535.75V518.25H60.9L67.25,526.6L73.6,518.25H79.75V535.75H74.5V525.3L68.4,533H66.1L60.25,525.3V535.75Z" fill="#000"/>
<path d="M82,518.25H101.75V522.3H94.25V535.75H89.25V522.3H82Z" fill="#000"/>
<path d="M104.25,518.25H122V522.3H109.25V526H120V529.6H109.25V535.75H104.25Z" fill="#000"/>
<g stroke="#000" fill="none" stroke-linecap="butt">
<rect x="130.1" y="519.4" width="6" height="12.8" stroke-width="3"/>
<line x1="130" x2="136" y1="525.5" y2="525.5" stroke-width="2.6"/>
<path d="M141.4,517.2V529.5Q141.2,533.6 138.2,536.2" stroke-width="3"/>
<path d="M140,518.6H150.5V533.2Q150.5,535.2 148.4,535.2H145.5" stroke-width="3"/>
<line x1="141.5" x2="150" y1="524.3" y2="524.3" stroke-width="2.5"/>
<line x1="141.5" x2="150" y1="529.3" y2="529.3" stroke-width="2.5"/>
<line x1="161.8" y1="517.3" x2="156" y2="522.8" stroke-width="3.2"/>
<line x1="162.6" y1="523.8" x2="156" y2="529.4" stroke-width="3.2"/>
<line x1="160.6" y1="527.5" x2="160.6" y2="536.8" stroke-width="3"/>
<line x1="164.4" y1="519.3" x2="180" y2="519.3" stroke-width="2.2"/>
<line x1="171.9" y1="517" x2="171.9" y2="522.5" stroke-width="3"/>
<rect x="165.8" y="522.8" width="13.2" height="3" stroke-width="1.4"/>
<line x1="170.3" y1="522.5" x2="170.3" y2="526" stroke-width="1.7"/>
<line x1="174.6" y1="522.5" x2="174.6" y2="526" stroke-width="1.7"/>
<line x1="165.1" y1="528.8" x2="179" y2="528.8" stroke-width="1.9"/>
<line x1="164.9" y1="531" x2="164.9" y2="535.6" stroke-width="2.2"/>
<path d="M169.4,530.3V533.8Q169.4,535.8 171.4,535.8H176.8" stroke-width="2.4"/>
<line x1="178.9" y1="531.2" x2="182" y2="535.6" stroke-width="3"/>
</g></g>
</svg></body></html>
